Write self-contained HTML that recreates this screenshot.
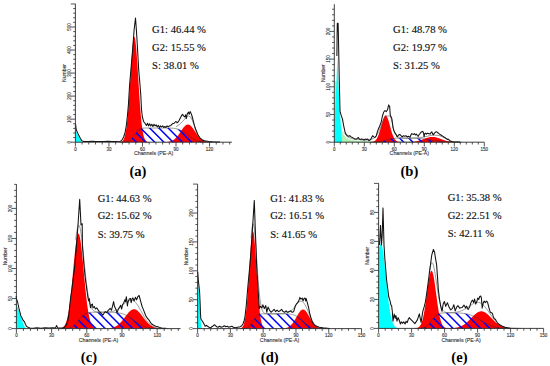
<!DOCTYPE html>
<html><head><meta charset="utf-8"><style>
html,body{margin:0;padding:0;background:#fff;}
svg{display:block;}
</style></head><body>
<svg width="550" height="366" viewBox="0 0 550 366">
<rect width="550" height="366" fill="#fff"/>
<path d="M75.4 142.2L75.4 130.2L76.8 132.6L78.2 135.6L79.6 138.3L81 140.4L82.4 142.2L82.4 142.2Z" fill="#00ffff"/>
<path d="M118.5 142.2L118.5 142.16L118.75 142.15L119 142.14L119.25 142.13L119.5 142.11L119.75 142.08L120 142.05L120.25 142.01L120.5 141.96L120.75 141.91L121 141.84L121.25 141.75L121.5 141.65L121.75 141.52L122 141.37L122.25 141.2L122.5 140.98L122.75 140.73L123 140.44L123.25 140.09L123.5 139.69L123.75 139.22L124 138.68L124.25 138.06L124.5 137.34L124.75 136.53L125 135.61L125.25 134.56L125.5 133.39L125.75 132.07L126 130.61L126.25 128.99L126.5 127.2L126.75 125.24L127 123.09L127.25 120.77L127.5 118.25L127.75 115.55L128 112.66L128.25 109.58L128.5 106.34L128.75 102.92L129 99.36L129.25 95.65L129.5 91.83L129.75 87.91L130 83.92L130.25 79.89L130.5 75.85L130.75 71.82L131 67.85L131.25 63.97L131.5 60.22L131.75 56.63L132 53.24L132.25 50.08L132.5 47.19L132.75 44.61L133 42.36L133.25 40.46L133.5 38.94L133.75 37.82L134 37.1L134.25 36.81L134.5 36.94L134.75 37.48L135 38.44L135.25 39.8L135.5 41.55L135.75 43.67L136 46.12L136.25 48.89L136.5 51.94L136.75 55.24L137 58.76L137.25 62.45L137.5 66.29L137.75 70.22L138 74.23L138.25 78.27L138.5 82.31L138.75 86.32L139 90.27L139.25 94.14L139.5 97.89L139.75 101.51L140 104.99L140.25 108.31L140.5 111.45L140.75 114.41L141 117.19L141.25 119.78L141.5 122.18L141.75 124.4L142 126.44L142.25 128.29L142.5 129.98L142.75 131.51L143 132.88L143.25 134.11L143.5 135.2L143.75 136.17L144 137.03L144.25 137.78L144.5 138.44L144.75 139.02L145 139.51L145.25 139.94L145.5 140.31L145.75 140.62L146 140.89L146.25 141.12L146.5 141.31L146.75 141.47L147 141.6L147.25 141.71L147.5 141.8L147.75 141.88L148 141.94L148.25 141.99L148.5 142.04L148.75 142.07L149 142.1L149.25 142.12L149.5 142.14L149.75 142.15L150 142.16L150.1 142.2Z" fill="#ff0000"/>
<path d="M159.5 142.2L159.5 142.19L159.75 142.19L160 142.19L160.25 142.19L160.5 142.19L160.75 142.19L161 142.19L161.25 142.18L161.5 142.18L161.75 142.18L162 142.18L162.25 142.17L162.5 142.17L162.75 142.17L163 142.16L163.25 142.16L163.5 142.15L163.75 142.15L164 142.14L164.25 142.13L164.5 142.12L164.75 142.11L165 142.1L165.25 142.09L165.5 142.08L165.75 142.06L166 142.05L166.25 142.03L166.5 142.01L166.75 141.99L167 141.97L167.25 141.94L167.5 141.91L167.75 141.88L168 141.85L168.25 141.82L168.5 141.78L168.75 141.73L169 141.69L169.25 141.64L169.5 141.58L169.75 141.53L170 141.46L170.25 141.39L170.5 141.32L170.75 141.24L171 141.16L171.25 141.07L171.5 140.97L171.75 140.87L172 140.76L172.25 140.64L172.5 140.52L172.75 140.38L173 140.24L173.25 140.09L173.5 139.94L173.75 139.77L174 139.6L174.25 139.41L174.5 139.22L174.75 139.02L175 138.8L175.25 138.58L175.5 138.35L175.75 138.11L176 137.86L176.25 137.59L176.5 137.32L176.75 137.04L177 136.75L177.25 136.45L177.5 136.15L177.75 135.83L178 135.5L178.25 135.17L178.5 134.83L178.75 134.49L179 134.13L179.25 133.77L179.5 133.41L179.75 133.04L180 132.67L180.25 132.29L180.5 131.92L180.75 131.54L181 131.16L181.25 130.78L181.5 130.41L181.75 130.04L182 129.67L182.25 129.3L182.5 128.95L182.75 128.59L183 128.25L183.25 127.92L183.5 127.59L183.75 127.28L184 126.98L184.25 126.69L184.5 126.42L184.75 126.16L185 125.92L185.25 125.69L185.5 125.48L185.75 125.29L186 125.12L186.25 124.97L186.5 124.84L186.75 124.73L187 124.64L187.25 124.57L187.5 124.53L187.75 124.5L188 124.5L188.25 124.52L188.5 124.56L188.75 124.63L189 124.71L189.25 124.82L189.5 124.94L189.75 125.09L190 125.26L190.25 125.44L190.5 125.65L190.75 125.87L191 126.11L191.25 126.36L191.5 126.64L191.75 126.92L192 127.22L192.25 127.53L192.5 127.85L192.75 128.18L193 128.52L193.25 128.87L193.5 129.23L193.75 129.59L194 129.96L194.25 130.33L194.5 130.71L194.75 131.09L195 131.46L195.25 131.84L195.5 132.22L195.75 132.59L196 132.97L196.25 133.34L196.5 133.7L196.75 134.06L197 134.41L197.25 134.76L197.5 135.1L197.75 135.44L198 135.76L198.25 136.08L198.5 136.39L198.75 136.69L199 136.99L199.25 137.27L199.5 137.54L199.75 137.8L200 138.06L200.25 138.3L200.5 138.53L200.75 138.76L201 138.97L201.25 139.18L201.5 139.37L201.75 139.56L202 139.74L202.25 139.9L202.5 140.06L202.75 140.21L203 140.36L203.25 140.49L203.5 140.62L203.75 140.74L204 140.85L204.25 140.95L204.5 141.05L204.75 141.14L205 141.23L205.25 141.31L205.5 141.38L205.75 141.45L206 141.51L206.25 141.57L206.5 141.63L206.75 141.68L207 141.73L207.25 141.77L207.5 141.81L207.75 141.84L208 141.88L208.25 141.91L208.5 141.94L208.75 141.96L209 141.99L209.25 142.01L209.5 142.03L209.75 142.04L210 142.06L210.25 142.08L210.5 142.09L210.75 142.1L211 142.11L211.25 142.12L211.5 142.13L211.75 142.14L212 142.14L212.25 142.15L212.5 142.16L212.75 142.16L213 142.17L213.25 142.17L213.5 142.17L213.75 142.18L214 142.18L214.25 142.18L214.5 142.18L214.75 142.19L215 142.19L215.25 142.19L215.5 142.19L215.75 142.19L216 142.19L216.25 142.19L216.3 142.2Z" fill="#ff0000"/>
<clipPath id="ca"><path d="M120.48 142.2L120.48 142.2L120.73 142.2L120.98 142.19L121.23 142.19L121.48 142.19L121.73 142.19L121.98 142.19L122.23 142.18L122.48 142.18L122.73 142.18L122.98 142.17L123.23 142.16L123.48 142.16L123.73 142.15L123.98 142.14L124.23 142.12L124.48 142.11L124.73 142.09L124.98 142.07L125.23 142.05L125.48 142.02L125.73 141.99L125.98 141.95L126.23 141.91L126.48 141.86L126.73 141.81L126.98 141.75L127.23 141.68L127.48 141.6L127.73 141.52L127.98 141.42L128.23 141.32L128.48 141.2L128.73 141.08L128.98 140.94L129.23 140.79L129.48 140.62L129.73 140.45L129.98 140.26L130.23 140.05L130.48 139.84L130.73 139.61L130.98 139.36L131.23 139.1L131.48 138.83L131.73 138.55L131.98 138.25L132.23 137.94L132.48 137.63L132.73 137.3L132.98 136.97L133.23 136.62L133.48 136.27L133.73 135.92L133.98 135.57L134.23 135.21L134.48 134.85L134.73 134.49L134.98 134.14L135.23 133.79L135.48 133.44L135.73 133.1L135.98 132.77L136.23 132.44L136.48 132.13L136.73 131.83L136.98 131.54L137.23 131.26L137.48 130.99L137.73 130.74L137.98 130.5L138.23 130.27L138.48 130.06L138.73 129.86L138.98 129.68L139.23 129.51L139.48 129.35L139.73 129.2L139.98 129.07L140.23 128.95L140.48 128.84L140.73 128.74L140.98 128.65L141.23 128.56L141.48 128.49L141.73 128.43L141.98 128.37L142.23 128.32L142.48 128.27L142.73 128.23L142.98 128.2L143.23 128.17L143.48 128.14L143.73 128.12L143.98 128.1L144.23 128.09L144.48 128.07L144.73 128.06L144.98 128.05L145.23 128.04L145.48 128.03L145.73 128.03L145.98 128.02L146.23 128.02L146.48 128.01L146.73 128.01L146.98 128.01L147.23 128.01L147.48 128.01L147.73 128L147.98 128L148.23 128L148.48 128L148.73 128L148.98 128L149.23 128L149.48 128L149.73 128L149.98 128L150.23 128L150.48 128L150.73 128L150.98 128L151.23 128L151.48 128L151.73 128L151.98 128L152.23 128L152.48 128L152.73 128L152.98 128L153.23 128L153.48 128L153.73 128L153.98 128L154.23 128L154.48 128L154.73 128L154.98 128L155.23 128L155.48 128L155.73 128L155.98 128L156.23 128L156.48 128L156.73 128L156.98 128L157.23 128L157.48 128L157.73 128L157.98 128L158.23 128L158.48 128L158.73 128L158.98 128L159.23 128L159.48 128L159.73 128L159.98 128L160.23 128L160.48 128L160.73 128L160.98 128L161.23 128L161.48 128L161.73 128L161.98 128L162.23 128L162.48 128L162.73 128L162.98 128L163.23 128L163.48 128L163.73 128L163.98 128.01L164.23 128.01L164.48 128.01L164.73 128.01L164.98 128.01L165.23 128.01L165.48 128.01L165.73 128.01L165.98 128.01L166.23 128.02L166.48 128.02L166.73 128.02L166.98 128.02L167.23 128.03L167.48 128.03L167.73 128.03L167.98 128.04L168.23 128.04L168.48 128.04L168.73 128.05L168.98 128.05L169.23 128.06L169.48 128.07L169.73 128.07L169.98 128.08L170.23 128.09L170.48 128.1L170.73 128.11L170.98 128.12L171.23 128.13L171.48 128.15L171.73 128.16L171.98 128.18L172.23 128.19L172.48 128.21L172.73 128.23L172.98 128.25L173.23 128.28L173.48 128.3L173.73 128.33L173.98 128.35L174.23 128.38L174.48 128.42L174.73 128.45L174.98 128.49L175.23 128.53L175.48 128.57L175.73 128.61L175.98 128.66L176.23 128.71L176.48 128.76L176.73 128.82L176.98 128.88L177.23 128.94L177.48 129.01L177.73 129.08L177.98 129.15L178.23 129.23L178.48 129.31L178.73 129.39L178.98 129.48L179.23 129.57L179.48 129.67L179.73 129.77L179.98 129.88L180.23 129.99L180.48 130.1L180.73 130.22L180.98 130.34L181.23 130.46L181.48 130.6L181.73 130.73L181.98 130.87L182.23 131.01L182.48 131.16L182.73 131.31L182.98 131.46L183.23 131.62L183.48 131.79L183.73 131.95L183.98 132.12L184.23 132.29L184.48 132.47L184.73 132.65L184.98 132.83L185.23 133.02L185.48 133.2L185.73 133.39L185.98 133.58L186.23 133.78L186.48 133.97L186.73 134.17L186.98 134.36L187.23 134.56L187.48 134.76L187.73 134.96L187.98 135.16L188.23 135.36L188.48 135.56L188.73 135.76L188.98 135.95L189.23 136.15L189.48 136.35L189.73 136.54L189.98 136.73L190.23 136.92L190.48 137.11L190.73 137.3L190.98 137.48L191.23 137.66L191.48 137.84L191.73 138.01L191.98 138.18L192.23 138.35L192.48 138.51L192.73 138.67L192.98 138.83L193.23 138.98L193.48 139.13L193.73 139.27L193.98 139.42L194.23 139.55L194.48 139.68L194.73 139.81L194.98 139.93L195.23 140.05L195.48 140.17L195.73 140.28L195.98 140.39L196.23 140.49L196.48 140.59L196.73 140.68L196.98 140.77L197.23 140.86L197.48 140.94L197.73 141.02L197.98 141.09L198.23 141.16L198.48 141.23L198.73 141.3L198.98 141.36L199.23 141.41L199.48 141.47L199.73 141.52L199.98 141.57L200.23 141.61L200.48 141.66L200.73 141.7L200.98 141.73L201.23 141.77L201.48 141.8L201.73 141.83L201.98 141.86L202.23 141.89L202.48 141.92L202.73 141.94L202.98 141.96L203.23 141.98L203.48 142L203.73 142.02L203.98 142.03L204.23 142.05L204.48 142.06L204.73 142.07L204.98 142.09L205.23 142.1L205.48 142.11L205.73 142.11L205.98 142.12L206.23 142.13L206.48 142.14L206.73 142.14L206.98 142.15L207.23 142.15L207.48 142.16L207.73 142.16L207.98 142.17L208.23 142.17L208.48 142.17L208.73 142.18L208.98 142.18L209.23 142.18L209.48 142.18L209.73 142.19L209.98 142.19L210.23 142.19L210.48 142.19L210.73 142.19L210.98 142.19L211.23 142.19L211.48 142.19L211.73 142.19L211.98 142.2L212.23 142.2L212.48 142.2L212.73 142.2L212.75 142.2Z"/></clipPath><g clip-path="url(#ca)" stroke="#0000ff" stroke-width="1.5"><line x1="100.7" y1="125" x2="120.9" y2="145.2"/><line x1="109.9" y1="125" x2="130.1" y2="145.2"/><line x1="119.1" y1="125" x2="139.3" y2="145.2"/><line x1="128.3" y1="125" x2="148.5" y2="145.2"/><line x1="137.5" y1="125" x2="157.7" y2="145.2"/><line x1="146.7" y1="125" x2="166.9" y2="145.2"/><line x1="155.9" y1="125" x2="176.1" y2="145.2"/><line x1="165.1" y1="125" x2="185.3" y2="145.2"/><line x1="174.3" y1="125" x2="194.5" y2="145.2"/><line x1="183.5" y1="125" x2="203.7" y2="145.2"/><line x1="192.7" y1="125" x2="212.9" y2="145.2"/><line x1="201.9" y1="125" x2="222.1" y2="145.2"/><line x1="211.1" y1="125" x2="231.3" y2="145.2"/></g>
<path d="M120.48 142.2L120.98 142.19L121.48 142.19L121.98 142.19L122.48 142.18L122.98 142.17L123.48 142.16L123.98 142.14L124.48 142.11L124.98 142.07L125.48 142.02L125.98 141.95L126.48 141.86L126.98 141.75L127.48 141.6L127.98 141.42L128.48 141.2L128.98 140.94L129.48 140.62L129.98 140.26L130.48 139.84L130.98 139.36L131.48 138.83L131.98 138.25L132.48 137.63L132.98 136.97L133.48 136.27L133.98 135.57L134.48 134.85L134.98 134.14L135.48 133.44L135.98 132.77L136.48 132.13L136.98 131.54L137.48 130.99L137.98 130.5L138.48 130.06L138.98 129.68L139.48 129.35L139.98 129.07L140.48 128.84L140.98 128.65L141.48 128.49L141.98 128.37L142.48 128.27L142.98 128.2L143.48 128.14L143.98 128.1L144.48 128.07L144.98 128.05L145.48 128.03L145.98 128.02L146.48 128.01L146.98 128.01L147.48 128.01L147.98 128L148.48 128L148.98 128L149.48 128L149.98 128L150.48 128L150.98 128L151.48 128L151.98 128L152.48 128L152.98 128L153.48 128L153.98 128L154.48 128L154.98 128L155.48 128L155.98 128L156.48 128L156.98 128L157.48 128L157.98 128L158.48 128L158.98 128L159.48 128L159.98 128L160.48 128L160.98 128L161.48 128L161.98 128L162.48 128L162.98 128L163.48 128L163.98 128.01L164.48 128.01L164.98 128.01L165.48 128.01L165.98 128.01L166.48 128.02L166.98 128.02L167.48 128.03L167.98 128.04L168.48 128.04L168.98 128.05L169.48 128.07L169.98 128.08L170.48 128.1L170.98 128.12L171.48 128.15L171.98 128.18L172.48 128.21L172.98 128.25L173.48 128.3L173.98 128.35L174.48 128.42L174.98 128.49L175.48 128.57L175.98 128.66L176.48 128.76L176.98 128.88L177.48 129.01L177.98 129.15L178.48 129.31L178.98 129.48L179.48 129.67L179.98 129.88L180.48 130.1L180.98 130.34L181.48 130.6L181.98 130.87L182.48 131.16L182.98 131.46L183.48 131.79L183.98 132.12L184.48 132.47L184.98 132.83L185.48 133.2L185.98 133.58L186.48 133.97L186.98 134.36L187.48 134.76L187.98 135.16L188.48 135.56L188.98 135.95L189.48 136.35L189.98 136.73L190.48 137.11L190.98 137.48L191.48 137.84L191.98 138.18L192.48 138.51L192.98 138.83L193.48 139.13L193.98 139.42L194.48 139.68L194.98 139.93L195.48 140.17L195.98 140.39L196.48 140.59L196.98 140.77L197.48 140.94L197.98 141.09L198.48 141.23L198.98 141.36L199.48 141.47L199.98 141.57L200.48 141.66L200.98 141.73L201.48 141.8L201.98 141.86L202.48 141.92L202.98 141.96L203.48 142L203.98 142.03L204.48 142.06L204.98 142.09L205.48 142.11L205.98 142.12L206.48 142.14L206.98 142.15L207.48 142.16L207.98 142.17L208.48 142.17L208.98 142.18L209.48 142.18L209.98 142.19L210.48 142.19L210.98 142.19L211.48 142.19L211.98 142.2L212.48 142.2" fill="none" stroke="#333" stroke-width="0.5"/>
<path d="M175.9 126.8L179.2 124.7L182.5 121.4L185.7 118.1L188.5 115.9L190.7 117L192.3 120.3L193.9 124.7L196.1 131.2L198.8 136.7L202.1 140L206.5 141.6" fill="none" stroke="#555" stroke-width="0.6"/>
<path d="M75.6 124.4L76.2 129.5L77.5 132.6L78.9 135.6L80.3 138.3L81.8 140.6L83.5 141.5L88 141.6L92 141.3L96 141.6L100 141.4L104 141.6L108 141.3L112 141.6L116 141.4L120.5 141.3L122.3 139.5L123.6 137L125 133L126.4 125L127.5 115L128.4 105L129.6 85L130.9 70L132.6 50L134.1 30L135.5 18L136.4 30L137.6 50L138.7 70L140 85L140.8 95L141.5 109.5L142.3 116.5L143.1 119.6L143.6 121.5L145.3 123.7L146.4 125.4L147.5 123.2L148.5 125.9L149.6 123.7L150.7 125.9L151.8 124.3L152.9 126.5L154 124.3L155.1 125.9L156.2 124.8L157.3 127L158.4 125.4L159.5 127.5L160.5 125.9L161.6 127L162.7 125.9L163.8 127.5L164.9 126.5L166 127.5L167.1 125.9L168.2 127L169.3 125.9L170.9 125.4L172.5 123.7L174.2 123.2L175.8 121.5L176.9 122.1L177 123L178.1 121.9L179.2 120.3L180.3 118.1L181.4 115.9L182.5 114.3L183.6 115.9L184.7 117L185.7 114.8L186.3 118.6L186.8 115.9L187.4 113.7L188.5 112.1L189.2 114.3L190.1 111.6L191.2 113.7L192.3 117L193.4 121.4L194.5 125.7L195.6 129L196.7 131.7L197.8 134.5L199.9 137.8L202.1 139.7L204.3 140.8L208.7 141.6L214.1 141.9L220 142" fill="none" stroke="#111" stroke-width="1.05" stroke-linejoin="round"/>
<path d="M75.4 3.8V142.2H231.92" stroke="#2a2a2a" stroke-width="0.9" fill="none"/>
<path d="M70.8 142.2H75.4M73.2 137.59H75.4M73.2 132.98H75.4M73.2 128.38H75.4M73.2 123.77H75.4M70.8 119.16H75.4M73.2 114.55H75.4M73.2 109.94H75.4M73.2 105.34H75.4M73.2 100.73H75.4M70.8 96.12H75.4M73.2 91.51H75.4M73.2 86.9H75.4M73.2 82.3H75.4M73.2 77.69H75.4M70.8 73.08H75.4M73.2 68.47H75.4M73.2 63.86H75.4M73.2 59.26H75.4M73.2 54.65H75.4M70.8 50.04H75.4M73.2 45.43H75.4M73.2 40.82H75.4M73.2 36.22H75.4M73.2 31.61H75.4M70.8 27H75.4M73.2 22.39H75.4M73.2 17.78H75.4M73.2 13.18H75.4M73.2 8.57H75.4M70.8 3.96H75.4M75.4 142.2V146.5M82.11 142.2V144.5M88.82 142.2V144.5M95.52 142.2V144.5M102.23 142.2V144.5M108.94 142.2V146.5M115.65 142.2V144.5M122.36 142.2V144.5M129.06 142.2V144.5M135.77 142.2V144.5M142.48 142.2V146.5M149.19 142.2V144.5M155.9 142.2V144.5M162.6 142.2V144.5M169.31 142.2V144.5M176.02 142.2V146.5M182.73 142.2V144.5M189.44 142.2V144.5M196.14 142.2V144.5M202.85 142.2V144.5M209.56 142.2V146.5M216.27 142.2V144.5M222.98 142.2V144.5M229.68 142.2V144.5" stroke="#2a2a2a" stroke-width="0.8" fill="none"/>
<g font-family="Liberation Sans, sans-serif" font-size="5" fill="#333" stroke="#333" stroke-width="0.12"><text x="75.4" y="150.8" text-anchor="middle" font-size="4.5">0</text><text x="108.94" y="150.8" text-anchor="middle" font-size="4.5">30</text><text x="142.48" y="150.8" text-anchor="middle" font-size="4.5">60</text><text x="176.02" y="150.8" text-anchor="middle" font-size="4.5">90</text><text x="209.56" y="150.8" text-anchor="middle" font-size="4.5">120</text><text transform="translate(70.6 142.2) rotate(-90)" text-anchor="middle" font-size="4.5">0</text><text transform="translate(70.6 119.16) rotate(-90)" text-anchor="middle" font-size="4.5">100</text><text transform="translate(70.6 96.12) rotate(-90)" text-anchor="middle" font-size="4.5">200</text><text transform="translate(70.6 73.08) rotate(-90)" text-anchor="middle" font-size="4.5">300</text><text transform="translate(70.6 50.04) rotate(-90)" text-anchor="middle" font-size="4.5">400</text><text transform="translate(70.6 27) rotate(-90)" text-anchor="middle" font-size="4.5">500</text><text transform="translate(65.8 73) rotate(-90)" text-anchor="middle">Number</text><text x="153.66" y="155.3" text-anchor="middle" font-size="5.25">Channels (PE-A)</text></g>
<path d="M334.3 142.2L334.3 81.3L334.8 81.3L335.3 81.3L335.8 81.3L336.3 81.3L336.8 81.3L337.3 81.3L337.8 90.05L338.3 99.3L338.8 106.74L339.3 112.74L339.8 117.59L340.3 121.52L340.8 124.7L341.3 127.29L341.8 129.41L342.3 131.14L342.8 132.56L343.3 133.74L343.8 134.71L344.3 135.53L344.8 136.21L345.3 136.78L345.8 137.27L346.3 137.69L346.8 138.05L347.3 138.35L347.8 138.62L348.3 138.86L348.8 139.07L349.3 139.25L349.8 139.42L350.3 139.56L350.8 139.69L351.3 139.81L351.8 139.92L352.3 140.02L352.8 140.11L353.3 140.2L353.8 140.27L354.3 140.34L354.8 140.41L355.3 140.47L355.8 140.52L356.3 140.58L356.8 140.62L357.3 140.67L357.8 140.71L358.3 140.75L358.8 140.78L359.3 140.82L359.8 140.85L360.3 140.88L360.8 140.91L361.3 140.93L361.8 140.96L362.3 140.98L362.8 141L363.3 141.02L363.8 141.04L364.3 141.05L364.8 141.07L365.3 141.08L365.8 141.1L366.3 141.11L366.8 141.12L367.3 141.13L367.8 141.15L368.3 141.16L368.8 141.16L369.3 141.17L369.8 141.18L370.3 141.19L370.8 141.2L371.3 141.2L371.8 141.21L372.3 141.22L372.8 141.22L373.3 141.23L373.8 141.23L374.3 141.24L374.8 141.24L375.3 141.24L375.8 141.25L376.3 141.25L376.8 141.25L377.3 141.26L377.8 141.26L378.3 141.26L378.8 141.26L379.3 141.27L379.8 141.27L380.3 141.27L380.8 141.27L381.3 141.27L381.8 141.28L382.3 141.28L382.8 141.28L383.3 141.28L383.8 141.28L384.3 141.28L384.8 141.28L385.3 141.29L385.8 141.29L386.3 141.29L386.8 141.29L387.3 141.29L387.8 141.29L388.3 141.29L388.8 141.29L389.3 141.29L389.8 141.29L390.3 141.29L390.8 141.29L391.3 141.29L391.8 141.29L392.3 141.29L392.8 141.29L393.3 141.29L393.8 141.3L394.3 141.3L394.8 141.3L395.3 141.3L395.8 141.3L396.3 141.3L396.8 141.3L397.3 141.3L397.8 141.3L398.3 141.3L398.8 141.3L399.3 141.3L399.8 141.3L400.3 141.3L400.8 141.3L401.3 141.3L401.8 141.3L402.3 141.3L402.8 141.3L403.3 141.3L403.8 141.3L404.3 141.3L404.8 141.3L405.3 141.3L405.8 141.3L406.3 141.3L406.8 141.3L407.3 141.3L407.8 141.3L408.3 141.3L408.8 141.3L409.3 141.3L409.8 141.3L410.3 141.3L410.8 141.3L411.3 141.3L411.8 141.3L412.3 141.3L412.8 141.3L413.3 141.3L413.8 141.3L414.3 141.3L414.8 141.3L415.3 141.3L415.8 141.3L416.3 141.3L416.8 141.3L417.3 141.3L417.8 141.3L418.3 141.3L418.8 141.3L419.3 141.3L419.8 141.3L420.3 141.3L420.8 141.3L421.3 141.3L421.8 141.3L422.3 141.3L422.8 141.3L423.3 141.3L423.8 141.3L424.3 141.3L424.8 141.3L425.3 141.3L425.8 141.3L426.3 141.3L426.8 141.3L427.3 141.3L427.8 141.3L428.3 141.3L428.8 141.3L429.3 141.3L429.8 141.3L430.3 141.3L430.8 141.3L431.3 141.3L431.8 141.3L432.3 141.3L432.8 141.3L433.3 141.3L433.8 141.3L434.3 141.3L434.8 141.3L435.3 141.3L435.8 141.3L436.3 141.3L436.8 141.3L437.3 141.3L437.8 141.3L438.3 141.3L438.8 141.3L439.3 141.3L439.8 141.3L440.3 141.3L440.8 141.3L441.3 141.3L441.8 141.3L442.3 141.3L442.8 141.3L443.3 141.3L443.8 141.3L444.3 141.3L444.8 141.3L445.3 141.3L445.8 141.3L446.3 141.3L446.8 141.3L447.3 141.3L447.8 141.3L448.3 141.3L448.8 141.3L449.3 141.3L449.8 141.3L450.3 141.3L450.8 141.3L451.3 141.3L451.8 141.3L452.3 141.3L452.8 141.3L453.3 141.3L453.8 141.3L454.3 141.3L454.8 141.3L455.3 141.3L455.8 141.3L456.3 141.3L456.8 141.3L457.3 141.3L457.8 141.3L458.3 141.3L458.8 141.3L459.3 141.3L459.8 141.3L460.3 142.2L460.8 142.2L461.3 142.2L461.8 142.2L462.3 142.2L462.8 142.2L463.3 142.2L463.8 142.2L464.3 142.2L464.8 142.2L465.3 142.2L465.8 142.2L466.3 142.2L466.8 142.2L467.3 142.2L467.8 142.2L468.3 142.2L468.8 142.2L469.3 142.2L469.8 142.2L470.3 142.2L470.8 142.2L471.3 142.2L471.8 142.2L472.3 142.2L472.8 142.2L473.3 142.2L473.8 142.2L474.3 142.2L474.8 142.2L475.3 142.2L475.8 142.2L476.3 142.2L476.8 142.2L477.3 142.2L477.8 142.2L478.3 142.2L478.8 142.2L479.3 142.2L479.8 142.2L480.3 142.2L480.8 142.2L481.3 142.2L481.8 142.2L482.3 142.2L482.8 142.2L483.3 142.2L483.8 142.2L484.3 142.2L484.3 142.2Z" fill="#b4f0b4"/>
<path d="M334.3 142.2L334.3 128L335.2 110L336.3 85L337.4 55.4L338.5 85L339.8 110L340.8 125L341.5 135L342.3 142.2L342.3 142.2Z" fill="#00ffff"/>
<path d="M368 142.2L368 142.19L368.25 142.19L368.5 142.19L368.75 142.18L369 142.18L369.25 142.17L369.5 142.17L369.75 142.16L370 142.15L370.25 142.14L370.5 142.13L370.75 142.11L371 142.09L371.25 142.07L371.5 142.04L371.75 142.01L372 141.98L372.25 141.93L372.5 141.88L372.75 141.82L373 141.76L373.25 141.68L373.5 141.59L373.75 141.49L374 141.37L374.25 141.24L374.5 141.09L374.75 140.92L375 140.73L375.25 140.52L375.5 140.28L375.75 140.02L376 139.73L376.25 139.41L376.5 139.05L376.75 138.67L377 138.25L377.25 137.79L377.5 137.3L377.75 136.76L378 136.19L378.25 135.58L378.5 134.94L378.75 134.25L379 133.53L379.25 132.78L379.5 131.99L379.75 131.17L380 130.32L380.25 129.45L380.5 128.56L380.75 127.66L381 126.74L381.25 125.82L381.5 124.9L381.75 123.99L382 123.09L382.25 122.22L382.5 121.37L382.75 120.55L383 119.78L383.25 119.05L383.5 118.37L383.75 117.76L384 117.21L384.25 116.73L384.5 116.32L384.75 115.99L385 115.75L385.25 115.58L385.5 115.51L385.75 115.52L386 115.61L386.25 115.79L386.5 116.05L386.75 116.4L387 116.82L387.25 117.31L387.5 117.88L387.75 118.5L388 119.19L388.25 119.93L388.5 120.71L388.75 121.54L389 122.39L389.25 123.27L389.5 124.17L389.75 125.09L390 126.01L390.25 126.92L390.5 127.84L390.75 128.74L391 129.63L391.25 130.49L391.5 131.33L391.75 132.15L392 132.93L392.25 133.68L392.5 134.39L392.75 135.07L393 135.71L393.25 136.31L393.5 136.87L393.75 137.4L394 137.88L394.25 138.33L394.5 138.75L394.75 139.13L395 139.47L395.25 139.79L395.5 140.08L395.75 140.33L396 140.57L396.25 140.77L396.5 140.96L396.75 141.12L397 141.27L397.25 141.4L397.5 141.51L397.75 141.61L398 141.7L398.25 141.77L398.5 141.84L398.75 141.89L399 141.94L399.25 141.98L399.5 142.02L399.75 142.05L400 142.07L400.25 142.1L400.5 142.11L400.75 142.13L401 142.14L401.25 142.15L401.5 142.16L401.75 142.17L402 142.17L402.25 142.18L402.5 142.18L402.75 142.19L403 142.19L403.2 142.2Z" fill="#ff0000"/>
<path d="M398.4 142.2L398.4 142.2L398.65 142.2L398.9 142.2L399.15 142.2L399.4 142.2L399.65 142.2L399.9 142.2L400.15 142.2L400.4 142.2L400.65 142.2L400.9 142.19L401.15 142.19L401.4 142.19L401.65 142.19L401.9 142.19L402.15 142.19L402.4 142.19L402.65 142.19L402.9 142.19L403.15 142.19L403.4 142.18L403.65 142.18L403.9 142.18L404.15 142.18L404.4 142.18L404.65 142.17L404.9 142.17L405.15 142.17L405.4 142.17L405.65 142.16L405.9 142.16L406.15 142.15L406.4 142.15L406.65 142.15L406.9 142.14L407.15 142.14L407.4 142.13L407.65 142.12L407.9 142.12L408.15 142.11L408.4 142.1L408.65 142.09L408.9 142.08L409.15 142.07L409.4 142.06L409.65 142.05L409.9 142.04L410.15 142.03L410.4 142.01L410.65 142L410.9 141.98L411.15 141.97L411.4 141.95L411.65 141.93L411.9 141.91L412.15 141.89L412.4 141.87L412.65 141.84L412.9 141.82L413.15 141.79L413.4 141.76L413.65 141.73L413.9 141.7L414.15 141.67L414.4 141.64L414.65 141.6L414.9 141.56L415.15 141.52L415.4 141.48L415.65 141.44L415.9 141.39L416.15 141.35L416.4 141.3L416.65 141.25L416.9 141.19L417.15 141.14L417.4 141.08L417.65 141.02L417.9 140.96L418.15 140.9L418.4 140.83L418.65 140.77L418.9 140.7L419.15 140.63L419.4 140.55L419.65 140.48L419.9 140.4L420.15 140.32L420.4 140.24L420.65 140.16L420.9 140.08L421.15 139.99L421.4 139.91L421.65 139.82L421.9 139.73L422.15 139.64L422.4 139.55L422.65 139.45L422.9 139.36L423.15 139.27L423.4 139.17L423.65 139.08L423.9 138.99L424.15 138.89L424.4 138.8L424.65 138.7L424.9 138.61L425.15 138.52L425.4 138.42L425.65 138.33L425.9 138.24L426.15 138.16L426.4 138.07L426.65 137.98L426.9 137.9L427.15 137.82L427.4 137.74L427.65 137.67L427.9 137.59L428.15 137.52L428.4 137.46L428.65 137.39L428.9 137.33L429.15 137.27L429.4 137.22L429.65 137.17L429.9 137.12L430.15 137.08L430.4 137.04L430.65 137.01L430.9 136.98L431.15 136.96L431.4 136.94L431.65 136.92L431.9 136.91L432.15 136.9L432.4 136.9L432.65 136.9L432.9 136.91L433.15 136.92L433.4 136.94L433.65 136.96L433.9 136.98L434.15 137.01L434.4 137.04L434.65 137.08L434.9 137.12L435.15 137.17L435.4 137.22L435.65 137.27L435.9 137.33L436.15 137.39L436.4 137.46L436.65 137.52L436.9 137.59L437.15 137.67L437.4 137.74L437.65 137.82L437.9 137.9L438.15 137.98L438.4 138.07L438.65 138.16L438.9 138.24L439.15 138.33L439.4 138.42L439.65 138.52L439.9 138.61L440.15 138.7L440.4 138.8L440.65 138.89L440.9 138.99L441.15 139.08L441.4 139.17L441.65 139.27L441.9 139.36L442.15 139.45L442.4 139.55L442.65 139.64L442.9 139.73L443.15 139.82L443.4 139.91L443.65 139.99L443.9 140.08L444.15 140.16L444.4 140.24L444.65 140.32L444.9 140.4L445.15 140.48L445.4 140.55L445.65 140.63L445.9 140.7L446.15 140.77L446.4 140.83L446.65 140.9L446.9 140.96L447.15 141.02L447.4 141.08L447.65 141.14L447.9 141.19L448.15 141.25L448.4 141.3L448.65 141.35L448.9 141.39L449.15 141.44L449.4 141.48L449.65 141.52L449.9 141.56L450.15 141.6L450.4 141.64L450.65 141.67L450.9 141.7L451.15 141.73L451.4 141.76L451.65 141.79L451.9 141.82L452.15 141.84L452.4 141.87L452.65 141.89L452.9 141.91L453.15 141.93L453.4 141.95L453.65 141.97L453.9 141.98L454.15 142L454.4 142.01L454.65 142.03L454.9 142.04L455.15 142.05L455.4 142.06L455.65 142.07L455.9 142.08L456.15 142.09L456.4 142.1L456.65 142.11L456.9 142.12L457.15 142.12L457.4 142.13L457.65 142.14L457.9 142.14L458.15 142.15L458.4 142.15L458.65 142.15L458.9 142.16L459.15 142.16L459.4 142.17L459.65 142.17L459.9 142.17L460.15 142.17L460.4 142.18L460.65 142.18L460.9 142.18L461.15 142.18L461.4 142.18L461.65 142.19L461.9 142.19L462.15 142.19L462.4 142.19L462.65 142.19L462.9 142.19L463.15 142.19L463.4 142.19L463.65 142.19L463.9 142.19L464.15 142.2L464.4 142.2L464.65 142.2L464.9 142.2L465.15 142.2L465.4 142.2L465.65 142.2L465.9 142.2L466.15 142.2L466.4 142.2L466.4 142.2Z" fill="#ff0000"/>
<clipPath id="cb"><path d="M370.2 142.2L370.2 142.2L370.45 142.2L370.7 142.2L370.95 142.2L371.2 142.2L371.45 142.2L371.7 142.2L371.95 142.2L372.2 142.2L372.45 142.19L372.7 142.19L372.95 142.19L373.2 142.19L373.45 142.19L373.7 142.19L373.95 142.18L374.2 142.18L374.45 142.18L374.7 142.17L374.95 142.17L375.2 142.16L375.45 142.16L375.7 142.15L375.95 142.14L376.2 142.13L376.45 142.12L376.7 142.11L376.95 142.1L377.2 142.09L377.45 142.07L377.7 142.05L377.95 142.04L378.2 142.01L378.45 141.99L378.7 141.97L378.95 141.94L379.2 141.91L379.45 141.88L379.7 141.84L379.95 141.8L380.2 141.76L380.45 141.72L380.7 141.67L380.95 141.62L381.2 141.57L381.45 141.51L381.7 141.45L381.95 141.39L382.2 141.32L382.45 141.25L382.7 141.18L382.95 141.11L383.2 141.03L383.45 140.95L383.7 140.87L383.95 140.78L384.2 140.7L384.45 140.61L384.7 140.52L384.95 140.43L385.2 140.34L385.45 140.25L385.7 140.16L385.95 140.07L386.2 139.98L386.45 139.89L386.7 139.81L386.95 139.72L387.2 139.63L387.45 139.55L387.7 139.47L387.95 139.39L388.2 139.31L388.45 139.23L388.7 139.16L388.95 139.09L389.2 139.03L389.45 138.96L389.7 138.9L389.95 138.85L390.2 138.79L390.45 138.74L390.7 138.69L390.95 138.65L391.2 138.61L391.45 138.57L391.7 138.53L391.95 138.5L392.2 138.47L392.45 138.44L392.7 138.41L392.95 138.39L393.2 138.37L393.45 138.35L393.7 138.33L393.95 138.32L394.2 138.3L394.45 138.29L394.7 138.28L394.95 138.27L395.2 138.26L395.45 138.25L395.7 138.24L395.95 138.24L396.2 138.23L396.45 138.23L396.7 138.22L396.95 138.22L397.2 138.22L397.45 138.21L397.7 138.21L397.95 138.21L398.2 138.21L398.45 138.21L398.7 138.21L398.95 138.2L399.2 138.2L399.45 138.2L399.7 138.2L399.95 138.2L400.2 138.2L400.45 138.2L400.7 138.2L400.95 138.2L401.2 138.2L401.45 138.2L401.7 138.2L401.95 138.2L402.2 138.2L402.45 138.2L402.7 138.2L402.95 138.2L403.2 138.2L403.45 138.2L403.7 138.2L403.95 138.2L404.2 138.2L404.45 138.2L404.7 138.2L404.95 138.2L405.2 138.2L405.45 138.2L405.7 138.2L405.95 138.2L406.2 138.2L406.45 138.2L406.7 138.21L406.95 138.21L407.2 138.21L407.45 138.21L407.7 138.21L407.95 138.21L408.2 138.21L408.45 138.21L408.7 138.21L408.95 138.21L409.2 138.21L409.45 138.21L409.7 138.22L409.95 138.22L410.2 138.22L410.45 138.22L410.7 138.22L410.95 138.22L411.2 138.23L411.45 138.23L411.7 138.23L411.95 138.23L412.2 138.23L412.45 138.24L412.7 138.24L412.95 138.24L413.2 138.25L413.45 138.25L413.7 138.26L413.95 138.26L414.2 138.26L414.45 138.27L414.7 138.27L414.95 138.28L415.2 138.29L415.45 138.29L415.7 138.3L415.95 138.31L416.2 138.31L416.45 138.32L416.7 138.33L416.95 138.34L417.2 138.35L417.45 138.36L417.7 138.37L417.95 138.38L418.2 138.39L418.45 138.4L418.7 138.41L418.95 138.43L419.2 138.44L419.45 138.46L419.7 138.47L419.95 138.49L420.2 138.5L420.45 138.52L420.7 138.54L420.95 138.56L421.2 138.58L421.45 138.6L421.7 138.62L421.95 138.64L422.2 138.66L422.45 138.68L422.7 138.71L422.95 138.73L423.2 138.76L423.45 138.78L423.7 138.81L423.95 138.84L424.2 138.87L424.45 138.9L424.7 138.93L424.95 138.96L425.2 138.99L425.45 139.03L425.7 139.06L425.95 139.1L426.2 139.13L426.45 139.17L426.7 139.2L426.95 139.24L427.2 139.28L427.45 139.32L427.7 139.36L427.95 139.4L428.2 139.44L428.45 139.48L428.7 139.53L428.95 139.57L429.2 139.61L429.45 139.66L429.7 139.7L429.95 139.75L430.2 139.79L430.45 139.84L430.7 139.88L430.95 139.93L431.2 139.98L431.45 140.02L431.7 140.07L431.95 140.12L432.2 140.16L432.45 140.21L432.7 140.26L432.95 140.3L433.2 140.35L433.45 140.4L433.7 140.44L433.95 140.49L434.2 140.54L434.45 140.58L434.7 140.63L434.95 140.67L435.2 140.72L435.45 140.76L435.7 140.8L435.95 140.85L436.2 140.89L436.45 140.93L436.7 140.97L436.95 141.02L437.2 141.06L437.45 141.1L437.7 141.13L437.95 141.17L438.2 141.21L438.45 141.25L438.7 141.28L438.95 141.32L439.2 141.35L439.45 141.39L439.7 141.42L439.95 141.45L440.2 141.48L440.45 141.51L440.7 141.54L440.95 141.57L441.2 141.6L441.45 141.63L441.7 141.65L441.95 141.68L442.2 141.7L442.45 141.73L442.7 141.75L442.95 141.77L443.2 141.79L443.45 141.81L443.7 141.83L443.95 141.85L444.2 141.87L444.45 141.89L444.7 141.9L444.95 141.92L445.2 141.94L445.45 141.95L445.7 141.96L445.95 141.98L446.2 141.99L446.45 142L446.7 142.01L446.95 142.03L447.2 142.04L447.45 142.05L447.7 142.06L447.95 142.07L448.2 142.07L448.45 142.08L448.7 142.09L448.95 142.1L449.2 142.1L449.45 142.11L449.7 142.12L449.95 142.12L450.2 142.13L450.45 142.13L450.7 142.14L450.95 142.14L451.2 142.15L451.45 142.15L451.7 142.15L451.95 142.16L452.2 142.16L452.45 142.16L452.7 142.17L452.95 142.17L453.2 142.17L453.45 142.17L453.7 142.18L453.95 142.18L454.2 142.18L454.45 142.18L454.7 142.18L454.95 142.18L455.2 142.19L455.45 142.19L455.7 142.19L455.95 142.19L456.2 142.19L456.45 142.19L456.7 142.19L456.95 142.19L457.2 142.19L457.45 142.19L457.7 142.19L457.95 142.19L458.2 142.2L458.45 142.2L458.7 142.2L458.95 142.2L459.2 142.2L459.45 142.2L459.7 142.2L459.95 142.2L460.2 142.2L460.45 142.2L460.7 142.2L460.95 142.2L461.2 142.2L461.45 142.2L461.7 142.2L461.95 142.2L462.15 142.2Z"/></clipPath><g clip-path="url(#cb)" stroke="#0000ff" stroke-width="1.5"><line x1="359.9" y1="135.2" x2="369.9" y2="145.2"/><line x1="369.1" y1="135.2" x2="379.1" y2="145.2"/><line x1="378.3" y1="135.2" x2="388.3" y2="145.2"/><line x1="387.5" y1="135.2" x2="397.5" y2="145.2"/><line x1="396.7" y1="135.2" x2="406.7" y2="145.2"/><line x1="405.9" y1="135.2" x2="415.9" y2="145.2"/><line x1="415.1" y1="135.2" x2="425.1" y2="145.2"/><line x1="424.3" y1="135.2" x2="434.3" y2="145.2"/><line x1="433.5" y1="135.2" x2="443.5" y2="145.2"/><line x1="442.7" y1="135.2" x2="452.7" y2="145.2"/><line x1="451.9" y1="135.2" x2="461.9" y2="145.2"/><line x1="461.1" y1="135.2" x2="471.1" y2="145.2"/></g>
<path d="M370.2 142.2L370.7 142.2L371.2 142.2L371.7 142.2L372.2 142.2L372.7 142.19L373.2 142.19L373.7 142.19L374.2 142.18L374.7 142.17L375.2 142.16L375.7 142.15L376.2 142.13L376.7 142.11L377.2 142.09L377.7 142.05L378.2 142.01L378.7 141.97L379.2 141.91L379.7 141.84L380.2 141.76L380.7 141.67L381.2 141.57L381.7 141.45L382.2 141.32L382.7 141.18L383.2 141.03L383.7 140.87L384.2 140.7L384.7 140.52L385.2 140.34L385.7 140.16L386.2 139.98L386.7 139.81L387.2 139.63L387.7 139.47L388.2 139.31L388.7 139.16L389.2 139.03L389.7 138.9L390.2 138.79L390.7 138.69L391.2 138.61L391.7 138.53L392.2 138.47L392.7 138.41L393.2 138.37L393.7 138.33L394.2 138.3L394.7 138.28L395.2 138.26L395.7 138.24L396.2 138.23L396.7 138.22L397.2 138.22L397.7 138.21L398.2 138.21L398.7 138.21L399.2 138.2L399.7 138.2L400.2 138.2L400.7 138.2L401.2 138.2L401.7 138.2L402.2 138.2L402.7 138.2L403.2 138.2L403.7 138.2L404.2 138.2L404.7 138.2L405.2 138.2L405.7 138.2L406.2 138.2L406.7 138.21L407.2 138.21L407.7 138.21L408.2 138.21L408.7 138.21L409.2 138.21L409.7 138.22L410.2 138.22L410.7 138.22L411.2 138.23L411.7 138.23L412.2 138.23L412.7 138.24L413.2 138.25L413.7 138.26L414.2 138.26L414.7 138.27L415.2 138.29L415.7 138.3L416.2 138.31L416.7 138.33L417.2 138.35L417.7 138.37L418.2 138.39L418.7 138.41L419.2 138.44L419.7 138.47L420.2 138.5L420.7 138.54L421.2 138.58L421.7 138.62L422.2 138.66L422.7 138.71L423.2 138.76L423.7 138.81L424.2 138.87L424.7 138.93L425.2 138.99L425.7 139.06L426.2 139.13L426.7 139.2L427.2 139.28L427.7 139.36L428.2 139.44L428.7 139.53L429.2 139.61L429.7 139.7L430.2 139.79L430.7 139.88L431.2 139.98L431.7 140.07L432.2 140.16L432.7 140.26L433.2 140.35L433.7 140.44L434.2 140.54L434.7 140.63L435.2 140.72L435.7 140.8L436.2 140.89L436.7 140.97L437.2 141.06L437.7 141.13L438.2 141.21L438.7 141.28L439.2 141.35L439.7 141.42L440.2 141.48L440.7 141.54L441.2 141.6L441.7 141.65L442.2 141.7L442.7 141.75L443.2 141.79L443.7 141.83L444.2 141.87L444.7 141.9L445.2 141.94L445.7 141.96L446.2 141.99L446.7 142.01L447.2 142.04L447.7 142.06L448.2 142.07L448.7 142.09L449.2 142.1L449.7 142.12L450.2 142.13L450.7 142.14L451.2 142.15L451.7 142.15L452.2 142.16L452.7 142.17L453.2 142.17L453.7 142.18L454.2 142.18L454.7 142.18L455.2 142.19L455.7 142.19L456.2 142.19L456.7 142.19L457.2 142.19L457.7 142.19L458.2 142.2L458.7 142.2L459.2 142.2L459.7 142.2L460.2 142.2L460.7 142.2L461.2 142.2L461.7 142.2" fill="none" stroke="#333" stroke-width="0.5"/>
<path d="M343.7 132L347.4 136.9L352.3 138.7L364.6 140.3L372 139.3L375.7 136.9L379.3 130.7L383 120.9L385.5 116L388 116L390.5 116L392.4 123.4L394.2 132L397.3 136.9L403.4 138.1L409.6 138.1L420 137.7L426 136.5L432.7 135L439.1 135.5L444.5 137.7L449.1 140L452.3 141.5" fill="none" stroke="#555" stroke-width="0.6"/>
<path d="M336.9 56L337.1 35L337.3 23.2L338.1 23.2L338.4 35L338.8 56L339.4 85L340 111.1L341.2 115.4L342.5 119.1L343.7 125.8L344.9 131.4L346.1 134.4L347.4 135.7L348.6 136.3L349.8 135.7L351.1 136.9L352.3 137.5L353.5 138.1L354.8 139.1L356 139.3L357.2 138.4L358.4 137.5L359.1 138.7L360.3 139.6L361.5 139.1L362.7 139.3L364 140L365.2 139.1L366.4 139.6L367.7 139.1L368.9 140.6L370.1 140L371.4 138.1L372.6 135.7L373.8 136.9L375 137.5L376.3 135.7L377.5 131.4L378.7 128.3L380 125.2L381.2 122.1L382.4 116L383.6 112.3L385 110.5L386.2 111.7L387.5 109.8L388.7 104.9L389.7 106.8L390.2 114.8L390.9 116.6L391.8 118.4L392.4 122.7L393 127.7L393.9 130.7L394.8 132.6L396.1 134.4L397.3 136.9L398.5 135L399.8 134.4L401 135.7L402.2 136.9L403.4 135.7L404.7 136.3L405.9 135.7L407.1 136.9L408.4 136.3L409.6 136.9L410 137.3L410.9 135L411.8 133.6L412.7 134.1L413.6 134.5L414.5 133.6L415.5 135L416.4 134.1L417.3 135.5L418.2 136.4L419.1 134.5L420 133.6L420.9 132.3L421.8 131.8L422.7 131.4L423.5 132.7L424.1 136.8L424.7 133.6L425.5 133.2L426.4 134.1L427.3 133.2L428.2 133.6L429.1 133.6L430 134.1L430.9 132.7L431.8 131.8L432.5 133.6L433.2 135L434.1 133.6L435 132.7L435.9 131.8L436.8 131.8L437.7 132.7L438.6 133.2L439.5 134.1L440.9 135L442.3 135.9L443.6 136.8L445 137.7L446.4 138.6L447.3 139.5L448.2 139.1L449.1 140L450 140.9L451.4 141.4L453.6 141.8L460 142" fill="none" stroke="#111" stroke-width="1.05" stroke-linejoin="round"/>
<path d="M334.3 4.2V142.2H484.3" stroke="#2a2a2a" stroke-width="0.9" fill="none"/>
<path d="M329.7 142.2H334.3M332.1 136.66H334.3M332.1 131.12H334.3M332.1 125.58H334.3M332.1 120.04H334.3M329.7 114.5H334.3M332.1 108.96H334.3M332.1 103.42H334.3M332.1 97.88H334.3M332.1 92.34H334.3M329.7 86.8H334.3M332.1 81.26H334.3M332.1 75.72H334.3M332.1 70.18H334.3M332.1 64.64H334.3M329.7 59.1H334.3M332.1 53.56H334.3M332.1 48.02H334.3M332.1 42.48H334.3M332.1 36.94H334.3M329.7 31.4H334.3M332.1 25.86H334.3M332.1 20.32H334.3M332.1 14.78H334.3M332.1 9.24H334.3M334.3 142.2V146.5M340.3 142.2V144.5M346.3 142.2V144.5M352.3 142.2V144.5M358.3 142.2V144.5M364.3 142.2V146.5M370.3 142.2V144.5M376.3 142.2V144.5M382.3 142.2V144.5M388.3 142.2V144.5M394.3 142.2V146.5M400.3 142.2V144.5M406.3 142.2V144.5M412.3 142.2V144.5M418.3 142.2V144.5M424.3 142.2V146.5M430.3 142.2V144.5M436.3 142.2V144.5M442.3 142.2V144.5M448.3 142.2V144.5M454.3 142.2V146.5M460.3 142.2V144.5M466.3 142.2V144.5M472.3 142.2V144.5M478.3 142.2V144.5M484.3 142.2V146.5" stroke="#2a2a2a" stroke-width="0.8" fill="none"/>
<g font-family="Liberation Sans, sans-serif" font-size="5" fill="#333" stroke="#333" stroke-width="0.12"><text x="334.3" y="150.8" text-anchor="middle" font-size="4.5">0</text><text x="364.3" y="150.8" text-anchor="middle" font-size="4.5">30</text><text x="394.3" y="150.8" text-anchor="middle" font-size="4.5">60</text><text x="424.3" y="150.8" text-anchor="middle" font-size="4.5">90</text><text x="454.3" y="150.8" text-anchor="middle" font-size="4.5">120</text><text x="484.3" y="150.8" text-anchor="middle" font-size="4.5">150</text><text transform="translate(329.5 142.2) rotate(-90)" text-anchor="middle" font-size="4.5">0</text><text transform="translate(329.5 114.5) rotate(-90)" text-anchor="middle" font-size="4.5">50</text><text transform="translate(329.5 86.8) rotate(-90)" text-anchor="middle" font-size="4.5">100</text><text transform="translate(329.5 59.1) rotate(-90)" text-anchor="middle" font-size="4.5">150</text><text transform="translate(329.5 31.4) rotate(-90)" text-anchor="middle" font-size="4.5">200</text><text transform="translate(324.7 73.2) rotate(-90)" text-anchor="middle">Number</text><text x="409.3" y="155.3" text-anchor="middle" font-size="5.25">Channels (PE-A)</text></g>
<path d="M16.3 328.6L16.3 303.3L16.55 304.09L16.8 304.87L17.05 305.66L17.3 306.44L17.55 307.21L17.8 307.98L18.05 308.75L18.3 309.51L18.55 310.27L18.8 311.03L19.05 311.78L19.3 312.53L19.55 313.27L19.8 314.01L20.05 314.74L20.3 315.47L20.55 316.2L20.8 316.91L21.05 317.63L21.3 318.33L21.55 319.03L21.8 319.72L22.05 320.41L22.3 321.09L22.55 321.76L22.8 322.42L23.05 323.08L23.3 323.72L23.55 324.35L23.8 324.97L24.05 325.58L24.3 326.17L24.55 326.74L24.8 327.29L25.05 327.81L25.3 328.29L25.55 328.6L25.6 328.6Z" fill="#00ffff"/>
<path d="M57.2 328.6L57.2 328.57L57.45 328.56L57.7 328.55L57.95 328.54L58.2 328.53L58.45 328.52L58.7 328.51L58.95 328.49L59.2 328.47L59.45 328.44L59.7 328.41L59.95 328.38L60.2 328.34L60.45 328.29L60.7 328.24L60.95 328.18L61.2 328.11L61.45 328.03L61.7 327.94L61.95 327.83L62.2 327.71L62.45 327.57L62.7 327.42L62.95 327.24L63.2 327.05L63.45 326.82L63.7 326.57L63.95 326.29L64.2 325.98L64.45 325.63L64.7 325.24L64.95 324.8L65.2 324.33L65.45 323.8L65.7 323.22L65.95 322.58L66.2 321.88L66.45 321.12L66.7 320.29L66.95 319.39L67.2 318.41L67.45 317.36L67.7 316.22L67.95 315L68.2 313.69L68.45 312.29L68.7 310.8L68.95 309.22L69.2 307.54L69.45 305.77L69.7 303.91L69.95 301.95L70.2 299.9L70.45 297.76L70.7 295.53L70.95 293.23L71.2 290.84L71.45 288.39L71.7 285.87L71.95 283.3L72.2 280.67L72.45 278.01L72.7 275.32L72.95 272.61L73.2 269.89L73.45 267.18L73.7 264.49L73.95 261.82L74.2 259.2L74.45 256.64L74.7 254.14L74.95 251.74L75.2 249.43L75.45 247.23L75.7 245.16L75.95 243.23L76.2 241.44L76.45 239.82L76.7 238.36L76.95 237.09L77.2 236L77.45 235.11L77.7 234.42L77.95 233.94L78.2 233.67L78.45 233.6L78.7 233.75L78.95 234.11L79.2 234.68L79.45 235.45L79.7 236.42L79.95 237.58L80.2 238.92L80.45 240.45L80.7 242.14L80.95 243.98L81.2 245.97L81.45 248.1L81.7 250.34L81.95 252.69L82.2 255.13L82.45 257.65L82.7 260.24L82.95 262.88L83.2 265.56L83.45 268.26L83.7 270.98L83.95 273.7L84.2 276.4L84.45 279.08L84.7 281.73L84.95 284.33L85.2 286.89L85.45 289.38L85.7 291.81L85.95 294.16L86.2 296.43L86.45 298.62L86.7 300.73L86.95 302.74L87.2 304.66L87.45 306.49L87.7 308.22L87.95 309.86L88.2 311.41L88.45 312.86L88.7 314.23L88.95 315.5L89.2 316.69L89.45 317.79L89.7 318.81L89.95 319.76L90.2 320.63L90.45 321.43L90.7 322.17L90.95 322.84L91.2 323.46L91.45 324.02L91.7 324.52L91.95 324.98L92.2 325.4L92.45 325.77L92.7 326.11L92.95 326.41L93.2 326.67L93.45 326.91L93.7 327.13L93.95 327.32L94.2 327.48L94.45 327.63L94.7 327.76L94.95 327.87L95.2 327.97L95.45 328.06L95.7 328.14L95.95 328.2L96.2 328.26L96.45 328.31L96.7 328.36L96.95 328.39L97.2 328.42L97.45 328.45L97.7 328.47L97.95 328.49L98.2 328.51L98.45 328.53L98.7 328.54L98.95 328.55L99.2 328.56L99.45 328.56L99.6 328.6Z" fill="#ff0000"/>
<path d="M98.8 328.6L98.8 328.59L99.05 328.59L99.3 328.59L99.55 328.59L99.8 328.59L100.05 328.59L100.3 328.59L100.55 328.59L100.8 328.58L101.05 328.58L101.3 328.58L101.55 328.58L101.8 328.58L102.05 328.57L102.3 328.57L102.55 328.57L102.8 328.56L103.05 328.56L103.3 328.56L103.55 328.55L103.8 328.55L104.05 328.54L104.3 328.53L104.55 328.53L104.8 328.52L105.05 328.51L105.3 328.5L105.55 328.5L105.8 328.49L106.05 328.47L106.3 328.46L106.55 328.45L106.8 328.44L107.05 328.42L107.3 328.41L107.55 328.39L107.8 328.37L108.05 328.35L108.3 328.33L108.55 328.3L108.8 328.28L109.05 328.25L109.3 328.22L109.55 328.19L109.8 328.16L110.05 328.12L110.3 328.08L110.55 328.04L110.8 328L111.05 327.95L111.3 327.9L111.55 327.85L111.8 327.79L112.05 327.74L112.3 327.67L112.55 327.61L112.8 327.53L113.05 327.46L113.3 327.38L113.55 327.3L113.8 327.21L114.05 327.11L114.3 327.02L114.55 326.91L114.8 326.8L115.05 326.69L115.3 326.57L115.55 326.45L115.8 326.31L116.05 326.18L116.3 326.03L116.55 325.88L116.8 325.73L117.05 325.56L117.3 325.4L117.55 325.22L117.8 325.04L118.05 324.85L118.3 324.65L118.55 324.45L118.8 324.24L119.05 324.02L119.3 323.79L119.55 323.56L119.8 323.32L120.05 323.08L120.3 322.83L120.55 322.57L120.8 322.3L121.05 322.03L121.3 321.75L121.55 321.47L121.8 321.18L122.05 320.88L122.3 320.58L122.55 320.28L122.8 319.97L123.05 319.65L123.3 319.34L123.55 319.02L123.8 318.69L124.05 318.36L124.3 318.03L124.55 317.7L124.8 317.37L125.05 317.03L125.3 316.7L125.55 316.37L125.8 316.03L126.05 315.7L126.3 315.37L126.55 315.04L126.8 314.72L127.05 314.4L127.3 314.08L127.55 313.77L127.8 313.46L128.05 313.16L128.3 312.87L128.55 312.59L128.8 312.31L129.05 312.04L129.3 311.78L129.55 311.53L129.8 311.29L130.05 311.06L130.3 310.84L130.55 310.64L130.8 310.44L131.05 310.26L131.3 310.09L131.55 309.94L131.8 309.8L132.05 309.67L132.3 309.56L132.55 309.46L132.8 309.38L133.05 309.31L133.3 309.26L133.55 309.23L133.8 309.21L134.05 309.2L134.3 309.21L134.55 309.24L134.8 309.28L135.05 309.34L135.3 309.41L135.55 309.5L135.8 309.6L136.05 309.72L136.3 309.85L136.55 310L136.8 310.16L137.05 310.33L137.3 310.52L137.55 310.72L137.8 310.93L138.05 311.15L138.3 311.38L138.55 311.63L138.8 311.88L139.05 312.15L139.3 312.42L139.55 312.7L139.8 312.99L140.05 313.28L140.3 313.59L140.55 313.89L140.8 314.21L141.05 314.53L141.3 314.85L141.55 315.17L141.8 315.5L142.05 315.83L142.3 316.17L142.55 316.5L142.8 316.83L143.05 317.17L143.3 317.5L143.55 317.83L143.8 318.16L144.05 318.49L144.3 318.82L144.55 319.14L144.8 319.46L145.05 319.78L145.3 320.09L145.55 320.4L145.8 320.7L146.05 321L146.3 321.3L146.55 321.58L146.8 321.86L147.05 322.14L147.3 322.41L147.55 322.67L147.8 322.93L148.05 323.18L148.3 323.42L148.55 323.65L148.8 323.88L149.05 324.11L149.3 324.32L149.55 324.53L149.8 324.73L150.05 324.92L150.3 325.11L150.55 325.29L150.8 325.46L151.05 325.63L151.3 325.79L151.55 325.94L151.8 326.09L152.05 326.23L152.3 326.37L152.55 326.5L152.8 326.62L153.05 326.74L153.3 326.85L153.55 326.96L153.8 327.06L154.05 327.15L154.3 327.24L154.55 327.33L154.8 327.41L155.05 327.49L155.3 327.56L155.55 327.63L155.8 327.7L156.05 327.76L156.3 327.82L156.55 327.87L156.8 327.92L157.05 327.97L157.3 328.02L157.55 328.06L157.8 328.1L158.05 328.14L158.3 328.17L158.55 328.2L158.8 328.23L159.05 328.26L159.3 328.29L159.55 328.31L159.8 328.34L160.05 328.36L160.3 328.38L160.55 328.4L160.8 328.41L161.05 328.43L161.3 328.44L161.55 328.46L161.8 328.47L162.05 328.48L162.3 328.49L162.55 328.5L162.8 328.51L163.05 328.52L163.3 328.52L163.55 328.53L163.8 328.54L164.05 328.54L164.3 328.55L164.55 328.55L164.8 328.56L165.05 328.56L165.3 328.57L165.55 328.57L165.8 328.57L166.05 328.57L166.3 328.58L166.55 328.58L166.8 328.58L167.05 328.58L167.3 328.58L167.55 328.59L167.8 328.59L168.05 328.59L168.3 328.59L168.55 328.59L168.8 328.59L169.05 328.59L169.2 328.6Z" fill="#ff0000"/>
<clipPath id="cc"><path d="M59.85 328.6L59.85 328.6L60.1 328.6L60.35 328.59L60.6 328.59L60.85 328.59L61.1 328.59L61.35 328.59L61.6 328.59L61.85 328.59L62.1 328.58L62.35 328.58L62.6 328.58L62.85 328.57L63.1 328.57L63.35 328.56L63.6 328.56L63.85 328.55L64.1 328.54L64.35 328.53L64.6 328.52L64.85 328.51L65.1 328.5L65.35 328.49L65.6 328.47L65.85 328.45L66.1 328.43L66.35 328.41L66.6 328.39L66.85 328.36L67.1 328.33L67.35 328.3L67.6 328.26L67.85 328.22L68.1 328.17L68.35 328.12L68.6 328.07L68.85 328.01L69.1 327.95L69.35 327.88L69.6 327.81L69.85 327.73L70.1 327.64L70.35 327.54L70.6 327.44L70.85 327.33L71.1 327.22L71.35 327.1L71.6 326.96L71.85 326.82L72.1 326.68L72.35 326.52L72.6 326.35L72.85 326.18L73.1 326L73.35 325.81L73.6 325.61L73.85 325.4L74.1 325.18L74.35 324.95L74.6 324.72L74.85 324.48L75.1 324.23L75.35 323.97L75.6 323.7L75.85 323.43L76.1 323.15L76.35 322.87L76.6 322.58L76.85 322.29L77.1 321.99L77.35 321.69L77.6 321.38L77.85 321.08L78.1 320.77L78.35 320.46L78.6 320.15L78.85 319.85L79.1 319.54L79.35 319.23L79.6 318.93L79.85 318.63L80.1 318.34L80.35 318.05L80.6 317.76L80.85 317.48L81.1 317.21L81.35 316.94L81.6 316.68L81.85 316.42L82.1 316.18L82.35 315.94L82.6 315.71L82.85 315.49L83.1 315.28L83.35 315.07L83.6 314.88L83.85 314.69L84.1 314.51L84.35 314.35L84.6 314.19L84.85 314.03L85.1 313.89L85.35 313.76L85.6 313.63L85.85 313.51L86.1 313.4L86.35 313.3L86.6 313.2L86.85 313.11L87.1 313.03L87.35 312.95L87.6 312.88L87.85 312.81L88.1 312.75L88.35 312.7L88.6 312.65L88.85 312.6L89.1 312.56L89.35 312.52L89.6 312.48L89.85 312.45L90.1 312.42L90.35 312.4L90.6 312.38L90.85 312.35L91.1 312.34L91.35 312.32L91.6 312.3L91.85 312.29L92.1 312.28L92.35 312.27L92.6 312.26L92.85 312.25L93.1 312.25L93.35 312.24L93.6 312.23L93.85 312.23L94.1 312.23L94.35 312.22L94.6 312.22L94.85 312.22L95.1 312.21L95.35 312.21L95.6 312.21L95.85 312.21L96.1 312.21L96.35 312.21L96.6 312.21L96.85 312.2L97.1 312.2L97.35 312.2L97.6 312.2L97.85 312.2L98.1 312.2L98.35 312.2L98.6 312.2L98.85 312.2L99.1 312.2L99.35 312.2L99.6 312.2L99.85 312.2L100.1 312.2L100.35 312.2L100.6 312.2L100.85 312.2L101.1 312.2L101.35 312.2L101.6 312.2L101.85 312.2L102.1 312.2L102.35 312.2L102.6 312.2L102.85 312.2L103.1 312.2L103.35 312.2L103.6 312.2L103.85 312.21L104.1 312.21L104.35 312.21L104.6 312.21L104.85 312.21L105.1 312.21L105.35 312.21L105.6 312.21L105.85 312.21L106.1 312.21L106.35 312.21L106.6 312.22L106.85 312.22L107.1 312.22L107.35 312.22L107.6 312.22L107.85 312.22L108.1 312.23L108.35 312.23L108.6 312.23L108.85 312.23L109.1 312.24L109.35 312.24L109.6 312.25L109.85 312.25L110.1 312.25L110.35 312.26L110.6 312.26L110.85 312.27L111.1 312.28L111.35 312.28L111.6 312.29L111.85 312.3L112.1 312.31L112.35 312.31L112.6 312.32L112.85 312.33L113.1 312.34L113.35 312.36L113.6 312.37L113.85 312.38L114.1 312.39L114.35 312.41L114.6 312.43L114.85 312.44L115.1 312.46L115.35 312.48L115.6 312.5L115.85 312.52L116.1 312.54L116.35 312.57L116.6 312.59L116.85 312.62L117.1 312.65L117.35 312.68L117.6 312.71L117.85 312.75L118.1 312.78L118.35 312.82L118.6 312.86L118.85 312.9L119.1 312.94L119.35 312.99L119.6 313.03L119.85 313.08L120.1 313.14L120.35 313.19L120.6 313.25L120.85 313.31L121.1 313.37L121.35 313.43L121.6 313.5L121.85 313.57L122.1 313.65L122.35 313.72L122.6 313.8L122.85 313.88L123.1 313.97L123.35 314.05L123.6 314.15L123.85 314.24L124.1 314.34L124.35 314.44L124.6 314.54L124.85 314.65L125.1 314.76L125.35 314.87L125.6 314.99L125.85 315.11L126.1 315.23L126.35 315.35L126.6 315.48L126.85 315.62L127.1 315.75L127.35 315.89L127.6 316.03L127.85 316.17L128.1 316.32L128.35 316.47L128.6 316.62L128.85 316.78L129.1 316.94L129.35 317.1L129.6 317.26L129.85 317.43L130.1 317.59L130.35 317.76L130.6 317.93L130.85 318.11L131.1 318.28L131.35 318.46L131.6 318.64L131.85 318.82L132.1 319L132.35 319.18L132.6 319.36L132.85 319.55L133.1 319.73L133.35 319.92L133.6 320.1L133.85 320.29L134.1 320.47L134.35 320.66L134.6 320.85L134.85 321.03L135.1 321.22L135.35 321.4L135.6 321.58L135.85 321.77L136.1 321.95L136.35 322.13L136.6 322.31L136.85 322.48L137.1 322.66L137.35 322.83L137.6 323L137.85 323.17L138.1 323.34L138.35 323.51L138.6 323.67L138.85 323.83L139.1 323.99L139.35 324.15L139.6 324.3L139.85 324.45L140.1 324.6L140.35 324.74L140.6 324.88L140.85 325.02L141.1 325.16L141.35 325.29L141.6 325.42L141.85 325.55L142.1 325.67L142.35 325.79L142.6 325.91L142.85 326.02L143.1 326.13L143.35 326.24L143.6 326.34L143.85 326.44L144.1 326.54L144.35 326.64L144.6 326.73L144.85 326.82L145.1 326.9L145.35 326.98L145.6 327.06L145.85 327.14L146.1 327.21L146.35 327.28L146.6 327.35L146.85 327.42L147.1 327.48L147.35 327.54L147.6 327.6L147.85 327.65L148.1 327.71L148.35 327.76L148.6 327.8L148.85 327.85L149.1 327.89L149.35 327.93L149.6 327.97L149.85 328.01L150.1 328.05L150.35 328.08L150.6 328.11L150.85 328.14L151.1 328.17L151.35 328.2L151.6 328.23L151.85 328.25L152.1 328.27L152.35 328.3L152.6 328.32L152.85 328.34L153.1 328.35L153.35 328.37L153.6 328.39L153.85 328.4L154.1 328.42L154.35 328.43L154.6 328.44L154.85 328.45L155.1 328.46L155.35 328.47L155.6 328.48L155.85 328.49L156.1 328.5L156.35 328.51L156.6 328.52L156.85 328.52L157.1 328.53L157.35 328.53L157.6 328.54L157.85 328.54L158.1 328.55L158.35 328.55L158.6 328.56L158.85 328.56L159.1 328.56L159.35 328.57L159.6 328.57L159.85 328.57L160.1 328.58L160.35 328.58L160.6 328.58L160.85 328.58L161.1 328.58L161.35 328.58L161.6 328.59L161.85 328.59L162.1 328.59L162.35 328.59L162.6 328.59L162.85 328.59L163.1 328.59L163.35 328.59L163.6 328.59L163.85 328.59L164.1 328.59L164.35 328.6L164.6 328.6L164.8 328.6Z"/></clipPath><g clip-path="url(#cc)" stroke="#0000ff" stroke-width="1.5"><line x1="39.8" y1="309.2" x2="62.2" y2="331.6"/><line x1="49" y1="309.2" x2="71.4" y2="331.6"/><line x1="58.2" y1="309.2" x2="80.6" y2="331.6"/><line x1="67.4" y1="309.2" x2="89.8" y2="331.6"/><line x1="76.6" y1="309.2" x2="99" y2="331.6"/><line x1="85.8" y1="309.2" x2="108.2" y2="331.6"/><line x1="95" y1="309.2" x2="117.4" y2="331.6"/><line x1="104.2" y1="309.2" x2="126.6" y2="331.6"/><line x1="113.4" y1="309.2" x2="135.8" y2="331.6"/><line x1="122.6" y1="309.2" x2="145" y2="331.6"/><line x1="131.8" y1="309.2" x2="154.2" y2="331.6"/><line x1="141" y1="309.2" x2="163.4" y2="331.6"/><line x1="150.2" y1="309.2" x2="172.6" y2="331.6"/><line x1="159.4" y1="309.2" x2="181.8" y2="331.6"/><line x1="168.6" y1="309.2" x2="191" y2="331.6"/></g>
<path d="M59.85 328.6L60.35 328.59L60.85 328.59L61.35 328.59L61.85 328.59L62.35 328.58L62.85 328.57L63.35 328.56L63.85 328.55L64.35 328.53L64.85 328.51L65.35 328.49L65.85 328.45L66.35 328.41L66.85 328.36L67.35 328.3L67.85 328.22L68.35 328.12L68.85 328.01L69.35 327.88L69.85 327.73L70.35 327.54L70.85 327.33L71.35 327.1L71.85 326.82L72.35 326.52L72.85 326.18L73.35 325.81L73.85 325.4L74.35 324.95L74.85 324.48L75.35 323.97L75.85 323.43L76.35 322.87L76.85 322.29L77.35 321.69L77.85 321.08L78.35 320.46L78.85 319.85L79.35 319.23L79.85 318.63L80.35 318.05L80.85 317.48L81.35 316.94L81.85 316.42L82.35 315.94L82.85 315.49L83.35 315.07L83.85 314.69L84.35 314.35L84.85 314.03L85.35 313.76L85.85 313.51L86.35 313.3L86.85 313.11L87.35 312.95L87.85 312.81L88.35 312.7L88.85 312.6L89.35 312.52L89.85 312.45L90.35 312.4L90.85 312.35L91.35 312.32L91.85 312.29L92.35 312.27L92.85 312.25L93.35 312.24L93.85 312.23L94.35 312.22L94.85 312.22L95.35 312.21L95.85 312.21L96.35 312.21L96.85 312.2L97.35 312.2L97.85 312.2L98.35 312.2L98.85 312.2L99.35 312.2L99.85 312.2L100.35 312.2L100.85 312.2L101.35 312.2L101.85 312.2L102.35 312.2L102.85 312.2L103.35 312.2L103.85 312.21L104.35 312.21L104.85 312.21L105.35 312.21L105.85 312.21L106.35 312.21L106.85 312.22L107.35 312.22L107.85 312.22L108.35 312.23L108.85 312.23L109.35 312.24L109.85 312.25L110.35 312.26L110.85 312.27L111.35 312.28L111.85 312.3L112.35 312.31L112.85 312.33L113.35 312.36L113.85 312.38L114.35 312.41L114.85 312.44L115.35 312.48L115.85 312.52L116.35 312.57L116.85 312.62L117.35 312.68L117.85 312.75L118.35 312.82L118.85 312.9L119.35 312.99L119.85 313.08L120.35 313.19L120.85 313.31L121.35 313.43L121.85 313.57L122.35 313.72L122.85 313.88L123.35 314.05L123.85 314.24L124.35 314.44L124.85 314.65L125.35 314.87L125.85 315.11L126.35 315.35L126.85 315.62L127.35 315.89L127.85 316.17L128.35 316.47L128.85 316.78L129.35 317.1L129.85 317.43L130.35 317.76L130.85 318.11L131.35 318.46L131.85 318.82L132.35 319.18L132.85 319.55L133.35 319.92L133.85 320.29L134.35 320.66L134.85 321.03L135.35 321.4L135.85 321.77L136.35 322.13L136.85 322.48L137.35 322.83L137.85 323.17L138.35 323.51L138.85 323.83L139.35 324.15L139.85 324.45L140.35 324.74L140.85 325.02L141.35 325.29L141.85 325.55L142.35 325.79L142.85 326.02L143.35 326.24L143.85 326.44L144.35 326.64L144.85 326.82L145.35 326.98L145.85 327.14L146.35 327.28L146.85 327.42L147.35 327.54L147.85 327.65L148.35 327.76L148.85 327.85L149.35 327.93L149.85 328.01L150.35 328.08L150.85 328.14L151.35 328.2L151.85 328.25L152.35 328.3L152.85 328.34L153.35 328.37L153.85 328.4L154.35 328.43L154.85 328.45L155.35 328.47L155.85 328.49L156.35 328.51L156.85 328.52L157.35 328.53L157.85 328.54L158.35 328.55L158.85 328.56L159.35 328.57L159.85 328.57L160.35 328.58L160.85 328.58L161.35 328.58L161.85 328.59L162.35 328.59L162.85 328.59L163.35 328.59L163.85 328.59L164.35 328.6" fill="none" stroke="#333" stroke-width="0.5"/>
<path d="M75.75 239.7L76.25 235.49L76.75 231.9L77.25 229.02L77.75 226.91L78.25 225.62L78.75 225.18L79.25 225.57L79.75 226.78L80.25 228.78L80.75 231.49L81.25 234.83L81.75 238.73L82.25 243.06L82.75 247.74L83.25 252.65L83.75 257.69L84.25 262.75L84.75 267.75L85.25 272.6L85.75 277.24L86.25 281.61L86.75 285.68L87.25 289.41L87.75 292.8L88.25 295.82L88.75 298.5L89.25 300.85L89.75 302.87L90.25 304.61L90.75 306.07L91.25 307.3L91.75 308.32L92.25 309.15L92.75 309.82L93.25 310.37L93.75 310.8L94.25 311.14L94.75 311.4L95.25 311.6L95.75 311.76L96.25 311.88L96.75 311.97L97.25 312.03L97.75 312.08L98.25 312.11L98.75 312.14L99.25 312.15L99.75 312.16L100.25 312.17L100.75 312.17L101.25 312.17L101.75 312.17L102.25 312.17L102.75 312.17L103.25 312.16L103.75 312.15L104.25 312.14L104.75 312.13L105.25 312.12L105.75 312.1L106.25 312.08L106.75 312.06L107.25 312.03L107.75 312L108.25 311.96L108.75 311.92L109.25 311.87L109.75 311.81L110.25 311.75L110.75 311.68L111.25 311.59L111.75 311.5L112.25 311.4L112.75 311.28L113.25 311.15L113.75 311L114.25 310.84L114.75 310.66L115.25 310.47L115.75 310.25L116.25 310.02L116.75 309.77L117.25 309.5L117.75 309.2L118.25 308.89L118.75 308.56L119.25 308.21L119.75 307.84L120.25 307.45L120.75 307.04L121.25 306.62L121.75 306.18L122.25 305.74L122.75 305.28L123.25 304.82L123.75 304.36L124.25 303.9L124.75 303.44L125.25 302.99L125.75 302.56L126.25 302.14L126.75 301.75L127.25 301.38L127.75 301.04L128.25 300.74L128.75 300.48L129.25 300.26L129.75 300.09L130.25 299.98L130.75 299.92L131.25 299.91L131.75 299.97L132.25 300.09L132.75 300.27L133.25 300.51L133.75 300.82L134.25 301.19L134.75 301.63L135.25 302.12L135.75 302.67L136.25 303.28L136.75 303.94L137.25 304.64L137.75 305.39L138.25 306.18L138.75 307L139.25 307.85L139.75 308.72L140.25 309.61L140.75 310.51L141.25 311.42L141.75 312.33L142.25 313.24L142.75 314.14L143.25 315.03L143.75 315.9L144.25 316.75L144.75 317.58L145.25 318.38L145.75 319.15L146.25 319.89L146.75 320.6L147.25 321.27L147.75 321.91L148.25 322.51L148.75 323.07L149.25 323.6L149.75 324.09L150.25 324.54L150.75 324.96L151.25 325.35L151.75 325.7L152.25 326.03L152.75 326.32L153.25 326.59L153.75 326.83L154.25 327.05L154.75 327.25L155.25 327.42L155.75 327.57L156.25 327.71L156.75 327.83L157.25 327.94L157.75 328.03L158.25 328.12L158.75 328.19L159.25 328.25L159.75 328.3L160.25 328.35L160.75 328.39L161.25 328.42L161.75 328.45L162.25 328.48L162.75 328.5L163.25 328.52L163.75 328.53L164.25 328.54L164.75 328.55L165.25 328.56L165.75 328.57L166.25 328.57L166.75 328.58L167.25 328.58L167.75 328.59L168.25 328.59L168.75 328.59" fill="none" stroke="#555" stroke-width="0.6"/>
<path d="M16.3 296L16.3 298.6L17.5 301.5L19.2 309.5L20.9 315.9L22.1 318.2L23.2 320.5L24.4 321.6L25.5 324.5L26.7 326.6L28.4 327.4L30.1 327.9L33 328.3L37 327.8L41 328.2L45 327.7L49 328.1L53 327.8L55.5 327.9L56.6 325.5L57.6 327.9L60 327.9L63.2 328.1L65.7 326.3L67.6 321.8L68.9 314.2L69.8 305.3L70.8 296.4L71.8 290L74.9 265L76.5 245L78 225L79.7 199.2L81 225L82.2 223.7L82.4 245L83.9 265L85.5 280L86.2 285L87.2 292.4L88.1 298.5L88.7 301L89.3 298.5L89.9 303.5L90.5 307.8L91.4 304.7L92.4 304.1L93 307.8L94.2 306.5L95.5 309L96.7 307.8L97.9 309.6L99.2 311.5L100.4 312.7L101.6 313.9L102.8 315.2L104.1 313.3L105.3 311.5L106.5 312.7L107.8 310.8L109 309.6L110.2 308.4L111.5 310.2L112.7 305.3L113.6 301.6L114.5 306.5L115.8 309L117 312.7L118.2 309.6L119.5 307.2L120.7 305.3L121.7 309L122.5 304.7L123.8 302.8L124.9 299.8L125.5 301.6L126.4 296.7L127.4 305.9L128 302.2L129.2 299.1L130.5 298.5L131.1 302.8L132 299.1L132.9 297.9L134.1 301L135.4 297.3L136.6 299.8L137.8 296.7L139.1 295.5L139.9 298.5L140.9 302.2L142.1 306.5L143.4 309.6L144.6 312.7L145.8 315.7L147 317.6L148.3 319.4L149.5 320.7L150.1 321.9L151.4 323.7L153.2 325L155.7 326.2L158.1 326.8L159.3 327.4L161.8 328L166 328.3" fill="none" stroke="#111" stroke-width="1.05" stroke-linejoin="round"/>
<path d="M16.4 184.1V328.6H180.62" stroke="#2a2a2a" stroke-width="0.9" fill="none"/>
<path d="M11.8 328.6H16.4M14.2 322.59H16.4M14.2 316.58H16.4M14.2 310.57H16.4M14.2 304.56H16.4M11.8 298.55H16.4M14.2 292.54H16.4M14.2 286.53H16.4M14.2 280.52H16.4M14.2 274.51H16.4M11.8 268.5H16.4M14.2 262.49H16.4M14.2 256.48H16.4M14.2 250.47H16.4M14.2 244.46H16.4M11.8 238.45H16.4M14.2 232.44H16.4M14.2 226.43H16.4M14.2 220.42H16.4M14.2 214.41H16.4M11.8 208.4H16.4M14.2 202.39H16.4M14.2 196.38H16.4M14.2 190.37H16.4M14.2 184.36H16.4M16.4 328.6V332.9M23.44 328.6V330.9M30.48 328.6V330.9M37.51 328.6V330.9M44.55 328.6V330.9M51.59 328.6V332.9M58.63 328.6V330.9M65.67 328.6V330.9M72.7 328.6V330.9M79.74 328.6V330.9M86.78 328.6V332.9M93.82 328.6V330.9M100.86 328.6V330.9M107.89 328.6V330.9M114.93 328.6V330.9M121.97 328.6V332.9M129.01 328.6V330.9M136.05 328.6V330.9M143.08 328.6V330.9M150.12 328.6V330.9M157.16 328.6V332.9M164.2 328.6V330.9M171.24 328.6V330.9M178.27 328.6V330.9" stroke="#2a2a2a" stroke-width="0.8" fill="none"/>
<g font-family="Liberation Sans, sans-serif" font-size="5" fill="#333" stroke="#333" stroke-width="0.12"><text x="16.4" y="337.2" text-anchor="middle" font-size="4.5">0</text><text x="51.59" y="337.2" text-anchor="middle" font-size="4.5">30</text><text x="86.78" y="337.2" text-anchor="middle" font-size="4.5">60</text><text x="121.97" y="337.2" text-anchor="middle" font-size="4.5">90</text><text x="157.16" y="337.2" text-anchor="middle" font-size="4.5">120</text><text transform="translate(11.6 328.6) rotate(-90)" text-anchor="middle" font-size="4.5">0</text><text transform="translate(11.6 298.55) rotate(-90)" text-anchor="middle" font-size="4.5">50</text><text transform="translate(11.6 268.5) rotate(-90)" text-anchor="middle" font-size="4.5">100</text><text transform="translate(11.6 238.45) rotate(-90)" text-anchor="middle" font-size="4.5">150</text><text transform="translate(11.6 208.4) rotate(-90)" text-anchor="middle" font-size="4.5">200</text><text transform="translate(6.8 256.35) rotate(-90)" text-anchor="middle">Number</text><text x="98.51" y="341.7" text-anchor="middle" font-size="5.25">Channels (PE-A)</text></g>
<path d="M197.6 328.6L197.6 281.5L198.6 288L199.3 295L199.8 305L200.2 315L200.8 322L201.6 328.6L201.6 328.6Z" fill="#00ffff"/>
<path d="M238.3 328.6L238.3 328.57L238.55 328.56L238.8 328.54L239.05 328.53L239.3 328.51L239.55 328.48L239.8 328.44L240.05 328.4L240.3 328.35L240.55 328.28L240.8 328.2L241.05 328.1L241.3 327.98L241.55 327.83L241.8 327.64L242.05 327.43L242.3 327.16L242.55 326.85L242.8 326.48L243.05 326.05L243.3 325.54L243.55 324.94L243.8 324.25L244.05 323.45L244.3 322.53L244.55 321.49L244.8 320.3L245.05 318.96L245.3 317.45L245.55 315.78L245.8 313.91L246.05 311.86L246.3 309.61L246.55 307.15L246.8 304.5L247.05 301.64L247.3 298.58L247.55 295.33L247.8 291.9L248.05 288.31L248.3 284.58L248.55 280.72L248.8 276.77L249.05 272.76L249.3 268.71L249.55 264.68L249.8 260.69L250.05 256.79L250.3 253.03L250.55 249.43L250.8 246.06L251.05 242.94L251.3 240.12L251.55 237.64L251.8 235.52L252.05 233.81L252.3 232.51L252.55 231.65L252.8 231.24L253.05 231.28L253.3 231.78L253.55 232.73L253.8 234.12L254.05 235.92L254.3 238.11L254.55 240.66L254.8 243.54L255.05 246.71L255.3 250.14L255.55 253.77L255.8 257.56L256.05 261.48L256.3 265.48L256.55 269.52L256.8 273.56L257.05 277.57L257.3 281.5L257.55 285.34L257.8 289.04L258.05 292.6L258.3 296L258.55 299.21L258.8 302.23L259.05 305.05L259.3 307.66L259.55 310.07L259.8 312.29L260.05 314.3L260.3 316.13L260.55 317.77L260.8 319.24L261.05 320.55L261.3 321.71L261.55 322.73L261.8 323.62L262.05 324.39L262.3 325.07L262.55 325.64L262.8 326.14L263.05 326.56L263.3 326.92L263.55 327.22L263.8 327.47L264.05 327.68L264.3 327.86L264.55 328L264.8 328.12L265.05 328.22L265.3 328.3L265.55 328.36L265.8 328.41L266.05 328.45L266.3 328.48L266.55 328.51L266.8 328.53L267.05 328.55L267.3 328.56L267.5 328.6Z" fill="#ff0000"/>
<path d="M277 328.6L277 328.59L277.25 328.59L277.5 328.59L277.75 328.59L278 328.59L278.25 328.59L278.5 328.58L278.75 328.58L279 328.58L279.25 328.58L279.5 328.57L279.75 328.57L280 328.56L280.25 328.56L280.5 328.55L280.75 328.55L281 328.54L281.25 328.53L281.5 328.52L281.75 328.51L282 328.5L282.25 328.48L282.5 328.47L282.75 328.45L283 328.43L283.25 328.41L283.5 328.39L283.75 328.36L284 328.33L284.25 328.3L284.5 328.27L284.75 328.23L285 328.19L285.25 328.14L285.5 328.09L285.75 328.04L286 327.98L286.25 327.91L286.5 327.84L286.75 327.76L287 327.68L287.25 327.59L287.5 327.49L287.75 327.38L288 327.27L288.25 327.15L288.5 327.01L288.75 326.87L289 326.72L289.25 326.56L289.5 326.39L289.75 326.21L290 326.02L290.25 325.81L290.5 325.59L290.75 325.37L291 325.13L291.25 324.87L291.5 324.61L291.75 324.33L292 324.04L292.25 323.73L292.5 323.42L292.75 323.09L293 322.75L293.25 322.4L293.5 322.04L293.75 321.66L294 321.28L294.25 320.88L294.5 320.48L294.75 320.06L295 319.64L295.25 319.22L295.5 318.78L295.75 318.35L296 317.9L296.25 317.46L296.5 317.02L296.75 316.57L297 316.13L297.25 315.68L297.5 315.25L297.75 314.82L298 314.39L298.25 313.98L298.5 313.57L298.75 313.18L299 312.79L299.25 312.43L299.5 312.08L299.75 311.74L300 311.43L300.25 311.14L300.5 310.86L300.75 310.61L301 310.38L301.25 310.18L301.5 310L301.75 309.85L302 309.72L302.25 309.63L302.5 309.56L302.75 309.51L303 309.5L303.25 309.51L303.5 309.56L303.75 309.63L304 309.72L304.25 309.85L304.5 310L304.75 310.18L305 310.38L305.25 310.61L305.5 310.86L305.75 311.14L306 311.43L306.25 311.74L306.5 312.08L306.75 312.43L307 312.79L307.25 313.18L307.5 313.57L307.75 313.98L308 314.39L308.25 314.82L308.5 315.25L308.75 315.68L309 316.13L309.25 316.57L309.5 317.02L309.75 317.46L310 317.9L310.25 318.35L310.5 318.78L310.75 319.22L311 319.64L311.25 320.06L311.5 320.48L311.75 320.88L312 321.28L312.25 321.66L312.5 322.04L312.75 322.4L313 322.75L313.25 323.09L313.5 323.42L313.75 323.73L314 324.04L314.25 324.33L314.5 324.61L314.75 324.87L315 325.13L315.25 325.37L315.5 325.59L315.75 325.81L316 326.02L316.25 326.21L316.5 326.39L316.75 326.56L317 326.72L317.25 326.87L317.5 327.01L317.75 327.15L318 327.27L318.25 327.38L318.5 327.49L318.75 327.59L319 327.68L319.25 327.76L319.5 327.84L319.75 327.91L320 327.98L320.25 328.04L320.5 328.09L320.75 328.14L321 328.19L321.25 328.23L321.5 328.27L321.75 328.3L322 328.33L322.25 328.36L322.5 328.39L322.75 328.41L323 328.43L323.25 328.45L323.5 328.47L323.75 328.48L324 328.5L324.25 328.51L324.5 328.52L324.75 328.53L325 328.54L325.25 328.55L325.5 328.55L325.75 328.56L326 328.56L326.25 328.57L326.5 328.57L326.75 328.58L327 328.58L327.25 328.58L327.5 328.58L327.75 328.59L328 328.59L328.25 328.59L328.5 328.59L328.75 328.59L329 328.59L329 328.6Z" fill="#ff0000"/>
<clipPath id="cd"><path d="M240.12 328.6L240.12 328.6L240.38 328.6L240.62 328.59L240.88 328.59L241.12 328.59L241.38 328.59L241.62 328.59L241.88 328.58L242.12 328.58L242.38 328.57L242.62 328.56L242.88 328.56L243.12 328.55L243.38 328.53L243.62 328.52L243.88 328.5L244.12 328.48L244.38 328.46L244.62 328.43L244.88 328.39L245.12 328.35L245.38 328.31L245.62 328.26L245.88 328.2L246.12 328.13L246.38 328.05L246.62 327.97L246.88 327.87L247.12 327.76L247.38 327.64L247.62 327.5L247.88 327.35L248.12 327.19L248.38 327.01L248.62 326.81L248.88 326.6L249.12 326.37L249.38 326.13L249.62 325.87L249.88 325.59L250.12 325.29L250.38 324.98L250.62 324.66L250.88 324.32L251.12 323.96L251.38 323.6L251.62 323.22L251.88 322.84L252.12 322.44L252.38 322.05L252.62 321.64L252.88 321.24L253.12 320.84L253.38 320.43L253.62 320.03L253.88 319.64L254.12 319.25L254.38 318.88L254.62 318.51L254.88 318.15L255.12 317.81L255.38 317.48L255.62 317.17L255.88 316.87L256.12 316.59L256.38 316.32L256.62 316.08L256.88 315.84L257.12 315.63L257.38 315.43L257.62 315.25L257.88 315.08L258.12 314.93L258.38 314.79L258.62 314.66L258.88 314.55L259.12 314.45L259.38 314.36L259.62 314.28L259.88 314.21L260.12 314.15L260.38 314.1L260.62 314.05L260.88 314.01L261.12 313.98L261.38 313.95L261.62 313.92L261.88 313.9L262.12 313.89L262.38 313.87L262.62 313.86L262.88 313.85L263.12 313.84L263.38 313.83L263.62 313.82L263.88 313.82L264.12 313.82L264.38 313.81L264.62 313.81L264.88 313.81L265.12 313.81L265.38 313.8L265.62 313.8L265.88 313.8L266.12 313.8L266.38 313.8L266.62 313.8L266.88 313.8L267.12 313.8L267.38 313.8L267.62 313.8L267.88 313.8L268.12 313.8L268.38 313.8L268.62 313.8L268.88 313.8L269.12 313.8L269.38 313.8L269.62 313.8L269.88 313.8L270.12 313.8L270.38 313.8L270.62 313.8L270.88 313.8L271.12 313.8L271.38 313.8L271.62 313.8L271.88 313.8L272.12 313.8L272.38 313.8L272.62 313.8L272.88 313.8L273.12 313.8L273.38 313.8L273.62 313.8L273.88 313.8L274.12 313.8L274.38 313.8L274.62 313.8L274.88 313.8L275.12 313.8L275.38 313.8L275.62 313.8L275.88 313.8L276.12 313.8L276.38 313.8L276.62 313.8L276.88 313.8L277.12 313.8L277.38 313.8L277.62 313.8L277.88 313.8L278.12 313.8L278.38 313.8L278.62 313.8L278.88 313.8L279.12 313.8L279.38 313.8L279.62 313.8L279.88 313.8L280.12 313.8L280.38 313.8L280.62 313.8L280.88 313.8L281.12 313.81L281.38 313.81L281.62 313.81L281.88 313.81L282.12 313.81L282.38 313.81L282.62 313.81L282.88 313.81L283.12 313.82L283.38 313.82L283.62 313.82L283.88 313.82L284.12 313.83L284.38 313.83L284.62 313.83L284.88 313.84L285.12 313.84L285.38 313.85L285.62 313.86L285.88 313.86L286.12 313.87L286.38 313.88L286.62 313.89L286.88 313.9L287.12 313.91L287.38 313.92L287.62 313.93L287.88 313.95L288.12 313.96L288.38 313.98L288.62 314L288.88 314.02L289.12 314.04L289.38 314.07L289.62 314.09L289.88 314.12L290.12 314.15L290.38 314.19L290.62 314.22L290.88 314.26L291.12 314.3L291.38 314.35L291.62 314.39L291.88 314.44L292.12 314.5L292.38 314.56L292.62 314.62L292.88 314.68L293.12 314.75L293.38 314.83L293.62 314.9L293.88 314.99L294.12 315.07L294.38 315.17L294.62 315.26L294.88 315.36L295.12 315.47L295.38 315.58L295.62 315.7L295.88 315.82L296.12 315.95L296.38 316.08L296.62 316.22L296.88 316.36L297.12 316.51L297.38 316.66L297.62 316.82L297.88 316.99L298.12 317.15L298.38 317.33L298.62 317.51L298.88 317.69L299.12 317.88L299.38 318.07L299.62 318.27L299.88 318.47L300.12 318.67L300.38 318.88L300.62 319.09L300.88 319.3L301.12 319.52L301.38 319.74L301.62 319.96L301.88 320.18L302.12 320.41L302.38 320.63L302.62 320.86L302.88 321.09L303.12 321.31L303.38 321.54L303.62 321.77L303.88 321.99L304.12 322.22L304.38 322.44L304.62 322.66L304.88 322.88L305.12 323.1L305.38 323.31L305.62 323.52L305.88 323.73L306.12 323.93L306.38 324.13L306.62 324.33L306.88 324.52L307.12 324.71L307.38 324.89L307.62 325.07L307.88 325.25L308.12 325.41L308.38 325.58L308.62 325.74L308.88 325.89L309.12 326.04L309.38 326.18L309.62 326.32L309.88 326.45L310.12 326.58L310.38 326.7L310.62 326.82L310.88 326.93L311.12 327.04L311.38 327.14L311.62 327.23L311.88 327.33L312.12 327.41L312.38 327.5L312.62 327.57L312.88 327.65L313.12 327.72L313.38 327.78L313.62 327.84L313.88 327.9L314.12 327.96L314.38 328.01L314.62 328.05L314.88 328.1L315.12 328.14L315.38 328.18L315.62 328.21L315.88 328.25L316.12 328.28L316.38 328.31L316.62 328.33L316.88 328.36L317.12 328.38L317.38 328.4L317.62 328.42L317.88 328.44L318.12 328.45L318.38 328.47L318.62 328.48L318.88 328.49L319.12 328.5L319.38 328.51L319.62 328.52L319.88 328.53L320.12 328.54L320.38 328.54L320.62 328.55L320.88 328.56L321.12 328.56L321.38 328.57L321.62 328.57L321.88 328.57L322.12 328.58L322.38 328.58L322.62 328.58L322.88 328.58L323.12 328.59L323.38 328.59L323.62 328.59L323.88 328.59L324.12 328.59L324.38 328.59L324.62 328.59L324.88 328.59L325.12 328.6L325.38 328.6L325.62 328.6L325.75 328.6Z"/></clipPath><g clip-path="url(#cd)" stroke="#0000ff" stroke-width="1.5"><line x1="219" y1="310.8" x2="239.8" y2="331.6"/><line x1="228.2" y1="310.8" x2="249" y2="331.6"/><line x1="237.4" y1="310.8" x2="258.2" y2="331.6"/><line x1="246.6" y1="310.8" x2="267.4" y2="331.6"/><line x1="255.8" y1="310.8" x2="276.6" y2="331.6"/><line x1="265" y1="310.8" x2="285.8" y2="331.6"/><line x1="274.2" y1="310.8" x2="295" y2="331.6"/><line x1="283.4" y1="310.8" x2="304.2" y2="331.6"/><line x1="292.6" y1="310.8" x2="313.4" y2="331.6"/><line x1="301.8" y1="310.8" x2="322.6" y2="331.6"/><line x1="311" y1="310.8" x2="331.8" y2="331.6"/><line x1="320.2" y1="310.8" x2="341" y2="331.6"/><line x1="329.4" y1="310.8" x2="350.2" y2="331.6"/></g>
<path d="M240.12 328.6L240.62 328.59L241.12 328.59L241.62 328.59L242.12 328.58L242.62 328.56L243.12 328.55L243.62 328.52L244.12 328.48L244.62 328.43L245.12 328.35L245.62 328.26L246.12 328.13L246.62 327.97L247.12 327.76L247.62 327.5L248.12 327.19L248.62 326.81L249.12 326.37L249.62 325.87L250.12 325.29L250.62 324.66L251.12 323.96L251.62 323.22L252.12 322.44L252.62 321.64L253.12 320.84L253.62 320.03L254.12 319.25L254.62 318.51L255.12 317.81L255.62 317.17L256.12 316.59L256.62 316.08L257.12 315.63L257.62 315.25L258.12 314.93L258.62 314.66L259.12 314.45L259.62 314.28L260.12 314.15L260.62 314.05L261.12 313.98L261.62 313.92L262.12 313.89L262.62 313.86L263.12 313.84L263.62 313.82L264.12 313.82L264.62 313.81L265.12 313.81L265.62 313.8L266.12 313.8L266.62 313.8L267.12 313.8L267.62 313.8L268.12 313.8L268.62 313.8L269.12 313.8L269.62 313.8L270.12 313.8L270.62 313.8L271.12 313.8L271.62 313.8L272.12 313.8L272.62 313.8L273.12 313.8L273.62 313.8L274.12 313.8L274.62 313.8L275.12 313.8L275.62 313.8L276.12 313.8L276.62 313.8L277.12 313.8L277.62 313.8L278.12 313.8L278.62 313.8L279.12 313.8L279.62 313.8L280.12 313.8L280.62 313.8L281.12 313.81L281.62 313.81L282.12 313.81L282.62 313.81L283.12 313.82L283.62 313.82L284.12 313.83L284.62 313.83L285.12 313.84L285.62 313.86L286.12 313.87L286.62 313.89L287.12 313.91L287.62 313.93L288.12 313.96L288.62 314L289.12 314.04L289.62 314.09L290.12 314.15L290.62 314.22L291.12 314.3L291.62 314.39L292.12 314.5L292.62 314.62L293.12 314.75L293.62 314.9L294.12 315.07L294.62 315.26L295.12 315.47L295.62 315.7L296.12 315.95L296.62 316.22L297.12 316.51L297.62 316.82L298.12 317.15L298.62 317.51L299.12 317.88L299.62 318.27L300.12 318.67L300.62 319.09L301.12 319.52L301.62 319.96L302.12 320.41L302.62 320.86L303.12 321.31L303.62 321.77L304.12 322.22L304.62 322.66L305.12 323.1L305.62 323.52L306.12 323.93L306.62 324.33L307.12 324.71L307.62 325.07L308.12 325.41L308.62 325.74L309.12 326.04L309.62 326.32L310.12 326.58L310.62 326.82L311.12 327.04L311.62 327.23L312.12 327.41L312.62 327.57L313.12 327.72L313.62 327.84L314.12 327.96L314.62 328.05L315.12 328.14L315.62 328.21L316.12 328.28L316.62 328.33L317.12 328.38L317.62 328.42L318.12 328.45L318.62 328.48L319.12 328.5L319.62 328.52L320.12 328.54L320.62 328.55L321.12 328.56L321.62 328.57L322.12 328.58L322.62 328.58L323.12 328.59L323.62 328.59L324.12 328.59L324.62 328.59L325.12 328.6L325.62 328.6" fill="none" stroke="#333" stroke-width="0.5"/>
<path d="M251.08 238.08L251.58 232.11L252.08 227.58L252.58 224.71L253.08 223.63L253.58 224.37L254.08 226.85L254.58 230.92L255.08 236.32L255.58 242.77L256.08 249.93L256.58 257.45L257.08 265.03L257.58 272.39L258.08 279.31L258.58 285.61L259.08 291.19L259.58 296L260.08 300.06L260.58 303.39L261.08 306.06L261.58 308.15L262.08 309.75L262.58 310.96L263.08 311.84L263.58 312.47L264.08 312.92L264.58 313.23L265.08 313.43L265.58 313.57L266.08 313.66L266.58 313.71L267.08 313.75L267.58 313.77L268.08 313.78L268.58 313.79L269.08 313.79L269.58 313.8L270.08 313.8L270.58 313.8L271.08 313.8L271.58 313.8L272.08 313.8L272.58 313.8L273.08 313.8L273.58 313.8L274.08 313.8L274.58 313.8L275.08 313.8L275.58 313.8L276.08 313.8L276.58 313.8L277.08 313.79L277.58 313.79L278.08 313.79L278.58 313.78L279.08 313.78L279.58 313.77L280.08 313.77L280.58 313.75L281.08 313.74L281.58 313.72L282.08 313.7L282.58 313.68L283.08 313.64L283.58 313.6L284.08 313.55L284.58 313.49L285.08 313.42L285.58 313.33L286.08 313.22L286.58 313.1L287.08 312.96L287.58 312.79L288.08 312.59L288.58 312.37L289.08 312.11L289.58 311.82L290.08 311.5L290.58 311.14L291.08 310.74L291.58 310.31L292.08 309.84L292.58 309.33L293.08 308.78L293.58 308.21L294.08 307.61L294.58 307L295.08 306.37L295.58 305.73L296.08 305.09L296.58 304.47L297.08 303.87L297.58 303.31L298.08 302.79L298.58 302.32L299.08 301.92L299.58 301.6L300.08 301.37L300.58 301.23L301.08 301.2L301.58 301.27L302.08 301.46L302.58 301.76L303.08 302.17L303.58 302.7L304.08 303.33L304.58 304.07L305.08 304.9L305.58 305.82L306.08 306.81L306.58 307.87L307.08 308.98L307.58 310.13L308.08 311.3L308.58 312.48L309.08 313.67L309.58 314.84L310.08 315.99L310.58 317.11L311.08 318.19L311.58 319.22L312.08 320.19L312.58 321.1L313.08 321.96L313.58 322.75L314.08 323.47L314.58 324.13L315.08 324.73L315.58 325.27L316.08 325.75L316.58 326.17L317.08 326.54L317.58 326.87L318.08 327.15L318.58 327.4L319.08 327.6L319.58 327.78L320.08 327.93L320.58 328.06L321.08 328.16L321.58 328.25L322.08 328.32L322.58 328.38L323.08 328.42L323.58 328.46L324.08 328.49L324.58 328.52L325.08 328.54L325.58 328.55L326.08 328.56L326.58 328.57L327.08 328.58L327.58 328.58L328.08 328.59L328.58 328.59" fill="none" stroke="#555" stroke-width="0.6"/>
<path d="M197.7 272L198.3 280L199.6 292L200.2 305L200.5 314L200.8 318.5L201.1 319.2L202.1 320.8L203.1 322.3L204.1 324.3L205.1 326.3L206.1 325.3L207.6 326.3L209.1 327.3L210.7 327.8L211.7 326.8L212.7 326.3L213.7 325.3L214.7 324.8L215.7 325.8L216.7 326.8L218.2 327.3L219.7 326.3L221.3 327.3L222.8 326.8L224.3 325.8L225.8 326.8L227.3 326.3L228.8 327.3L230.4 326.8L231.9 326.3L233.4 327.3L235.4 327.8L237.4 327.3L239.4 327.1L241 326.3L242 325.3L243 323.8L244 321.3L245 316.7L246.3 305L248 285L249.9 265L251.1 250L252.4 230L254.3 200.4L255.3 230L256.1 250L256.6 265L257.2 275L257.5 280L258.7 299.5L259.3 308.6L260.5 306.3L262 307.8L262.8 304.8L264.3 308.6L265.8 305.6L266.8 312.3L268 307.1L269.5 310.1L271 312.3L272.6 310.8L274.1 309.3L275.6 311.6L277.1 310.1L278.6 311.6L280.1 310.8L281.6 309.3L283.1 311.6L284.6 312.3L286.1 310.8L287.6 312.3L289.1 311.6L290.6 310.8L292.1 312.3L293.6 311.8L295.3 306L296.5 303.8L297.6 302.6L298.8 300.9L299.9 297.4L301 299.2L302.2 298L303.1 300.9L303.9 298.6L305 298L305.6 300.9L306.2 298.6L307.3 302.6L308.5 307.2L309.6 312.9L310.8 317.5L311.9 320.9L313.7 324.4L315.9 326.1L319.4 327.2L322.8 327.8L329.7 328.4" fill="none" stroke="#111" stroke-width="1.05" stroke-linejoin="round"/>
<path d="M197.6 184.1V328.6H361.55" stroke="#2a2a2a" stroke-width="0.9" fill="none"/>
<path d="M193 328.6H197.6M195.4 322.82H197.6M195.4 317.04H197.6M195.4 311.26H197.6M195.4 305.48H197.6M193 299.7H197.6M195.4 293.92H197.6M195.4 288.14H197.6M195.4 282.36H197.6M195.4 276.58H197.6M193 270.8H197.6M195.4 265.02H197.6M195.4 259.24H197.6M195.4 253.46H197.6M195.4 247.68H197.6M193 241.9H197.6M195.4 236.12H197.6M195.4 230.34H197.6M195.4 224.56H197.6M195.4 218.78H197.6M193 213H197.6M195.4 207.22H197.6M195.4 201.44H197.6M195.4 195.66H197.6M195.4 189.88H197.6M193 184.1H197.6M197.6 328.6V332.9M204.16 328.6V330.9M210.72 328.6V330.9M217.27 328.6V330.9M223.83 328.6V330.9M230.39 328.6V332.9M236.95 328.6V330.9M243.51 328.6V330.9M250.06 328.6V330.9M256.62 328.6V330.9M263.18 328.6V332.9M269.74 328.6V330.9M276.3 328.6V330.9M282.85 328.6V330.9M289.41 328.6V330.9M295.97 328.6V332.9M302.53 328.6V330.9M309.09 328.6V330.9M315.64 328.6V330.9M322.2 328.6V330.9M328.76 328.6V332.9M335.32 328.6V330.9M341.88 328.6V330.9M348.43 328.6V330.9M354.99 328.6V330.9M361.55 328.6V332.9" stroke="#2a2a2a" stroke-width="0.8" fill="none"/>
<g font-family="Liberation Sans, sans-serif" font-size="5" fill="#333" stroke="#333" stroke-width="0.12"><text x="197.6" y="337.2" text-anchor="middle" font-size="4.5">0</text><text x="230.39" y="337.2" text-anchor="middle" font-size="4.5">30</text><text x="263.18" y="337.2" text-anchor="middle" font-size="4.5">60</text><text x="295.97" y="337.2" text-anchor="middle" font-size="4.5">90</text><text x="328.76" y="337.2" text-anchor="middle" font-size="4.5">120</text><text x="361.55" y="337.2" text-anchor="middle" font-size="4.5">150</text><text transform="translate(192.8 328.6) rotate(-90)" text-anchor="middle" font-size="4.5">0</text><text transform="translate(192.8 299.7) rotate(-90)" text-anchor="middle" font-size="4.5">50</text><text transform="translate(192.8 270.8) rotate(-90)" text-anchor="middle" font-size="4.5">100</text><text transform="translate(192.8 241.9) rotate(-90)" text-anchor="middle" font-size="4.5">150</text><text transform="translate(192.8 213) rotate(-90)" text-anchor="middle" font-size="4.5">200</text><text transform="translate(188 256.35) rotate(-90)" text-anchor="middle">Number</text><text x="279.57" y="341.7" text-anchor="middle" font-size="5.25">Channels (PE-A)</text></g>
<path d="M378.6 328.4L378.6 250.99L378.85 249.47L379.1 248.1L379.35 246.9L379.6 245.87L379.85 245.03L380.1 244.38L380.35 243.92L380.6 243.66L380.85 243.6L381.1 243.74L381.35 244.08L381.6 244.62L381.85 245.34L382.1 246.26L382.35 247.36L382.6 248.62L382.85 250.06L383.1 251.65L383.35 253.38L383.6 255.25L383.85 257.24L384.1 259.34L384.35 261.53L384.6 263.81L384.85 266.16L385.1 268.56L385.35 271L385.6 273.48L385.85 275.97L386.1 278.46L386.35 280.95L386.6 283.42L386.85 285.87L387.1 288.27L387.35 290.63L387.6 292.93L387.85 295.17L388.1 297.35L388.35 299.45L388.6 301.47L388.85 303.41L389.1 305.26L389.35 307.03L389.6 308.7L389.85 310.29L390.1 311.79L390.35 313.21L390.6 314.53L390.85 315.77L391.1 316.92L391.35 318L391.6 318.99L391.85 319.91L392.1 320.76L392.35 321.54L392.6 322.26L392.85 322.91L393.1 323.51L393.35 324.05L393.6 324.54L393.85 324.98L394.1 325.38L394.35 325.74L394.6 326.06L394.85 326.35L395.1 326.6L395.35 326.83L395.6 327.04L395.85 327.21L396.1 327.37L396.35 327.51L396.6 327.63L396.85 327.74L397.1 327.83L397.35 327.91L397.6 327.99L397.85 328.05L398.1 328.1L398.35 328.14L398.6 328.18L398.85 328.22L399.1 328.25L399.35 328.27L399.6 328.29L399.85 328.31L400 328.4Z" fill="#00ffff"/>
<path d="M413.1 328.4L413.1 328.38L413.35 328.38L413.6 328.37L413.85 328.36L414.1 328.35L414.35 328.34L414.6 328.33L414.85 328.32L415.1 328.3L415.35 328.28L415.6 328.25L415.85 328.22L416.1 328.19L416.35 328.15L416.6 328.1L416.85 328.04L417.1 327.97L417.35 327.89L417.6 327.8L417.85 327.69L418.1 327.57L418.35 327.43L418.6 327.27L418.85 327.09L419.1 326.88L419.35 326.64L419.6 326.37L419.85 326.07L420.1 325.73L420.35 325.35L420.6 324.92L420.85 324.45L421.1 323.93L421.35 323.35L421.6 322.72L421.85 322.02L422.1 321.26L422.35 320.43L422.6 319.54L422.85 318.57L423.1 317.53L423.35 316.41L423.6 315.22L423.85 313.95L424.1 312.61L424.35 311.19L424.6 309.7L424.85 308.14L425.1 306.52L425.35 304.83L425.6 303.1L425.85 301.31L426.1 299.48L426.35 297.62L426.6 295.74L426.85 293.84L427.1 291.95L427.35 290.06L427.6 288.19L427.85 286.36L428.1 284.57L428.35 282.84L428.6 281.18L428.85 279.61L429.1 278.13L429.35 276.76L429.6 275.51L429.85 274.39L430.1 273.41L430.35 272.57L430.6 271.89L430.85 271.37L431.1 271.02L431.35 270.83L431.6 270.81L431.85 270.97L432.1 271.29L432.35 271.78L432.6 272.42L432.85 273.23L433.1 274.18L433.35 275.27L433.6 276.5L433.85 277.85L434.1 279.3L434.35 280.86L434.6 282.5L434.85 284.22L435.1 285.99L435.35 287.82L435.6 289.68L435.85 291.57L436.1 293.46L436.35 295.36L436.6 297.25L436.85 299.11L437.1 300.95L437.35 302.74L437.6 304.49L437.85 306.19L438.1 307.82L438.35 309.39L438.6 310.9L438.85 312.33L439.1 313.69L439.35 314.97L439.6 316.18L439.85 317.31L440.1 318.37L440.35 319.35L440.6 320.26L440.85 321.1L441.1 321.87L441.35 322.58L441.6 323.23L441.85 323.82L442.1 324.35L442.35 324.83L442.6 325.27L442.85 325.66L443.1 326L443.35 326.31L443.6 326.59L443.85 326.83L444.1 327.05L444.35 327.24L444.6 327.4L444.85 327.55L445.1 327.67L445.35 327.78L445.6 327.87L445.85 327.96L446.1 328.03L446.35 328.09L446.6 328.14L446.85 328.18L447.1 328.22L447.35 328.25L447.6 328.27L447.85 328.3L448.1 328.31L448.35 328.33L448.6 328.34L448.85 328.35L449.1 328.36L449.35 328.37L449.6 328.37L449.85 328.38L449.9 328.4Z" fill="#ff0000"/>
<path d="M441.3 328.4L441.3 328.39L441.55 328.39L441.8 328.39L442.05 328.39L442.3 328.39L442.55 328.39L442.8 328.39L443.05 328.39L443.3 328.39L443.55 328.39L443.8 328.38L444.05 328.38L444.3 328.38L444.55 328.38L444.8 328.38L445.05 328.38L445.3 328.37L445.55 328.37L445.8 328.37L446.05 328.37L446.3 328.36L446.55 328.36L446.8 328.36L447.05 328.35L447.3 328.35L447.55 328.34L447.8 328.34L448.05 328.33L448.3 328.33L448.55 328.32L448.8 328.31L449.05 328.31L449.3 328.3L449.55 328.29L449.8 328.28L450.05 328.27L450.3 328.26L450.55 328.25L450.8 328.24L451.05 328.22L451.3 328.21L451.55 328.2L451.8 328.18L452.05 328.16L452.3 328.14L452.55 328.13L452.8 328.11L453.05 328.08L453.3 328.06L453.55 328.04L453.8 328.01L454.05 327.98L454.3 327.95L454.55 327.92L454.8 327.89L455.05 327.85L455.3 327.82L455.55 327.78L455.8 327.74L456.05 327.69L456.3 327.65L456.55 327.6L456.8 327.55L457.05 327.5L457.3 327.44L457.55 327.38L457.8 327.32L458.05 327.25L458.3 327.19L458.55 327.11L458.8 327.04L459.05 326.96L459.3 326.88L459.55 326.79L459.8 326.7L460.05 326.61L460.3 326.51L460.55 326.41L460.8 326.31L461.05 326.2L461.3 326.09L461.55 325.97L461.8 325.85L462.05 325.72L462.3 325.59L462.55 325.45L462.8 325.31L463.05 325.17L463.3 325.02L463.55 324.86L463.8 324.7L464.05 324.54L464.3 324.37L464.55 324.2L464.8 324.02L465.05 323.83L465.3 323.65L465.55 323.45L465.8 323.26L466.05 323.05L466.3 322.85L466.55 322.64L466.8 322.42L467.05 322.2L467.3 321.98L467.55 321.76L467.8 321.53L468.05 321.29L468.3 321.05L468.55 320.81L468.8 320.57L469.05 320.33L469.3 320.08L469.55 319.83L469.8 319.57L470.05 319.32L470.3 319.06L470.55 318.8L470.8 318.55L471.05 318.29L471.3 318.03L471.55 317.77L471.8 317.51L472.05 317.25L472.3 316.99L472.55 316.74L472.8 316.48L473.05 316.23L473.3 315.98L473.55 315.74L473.8 315.49L474.05 315.25L474.3 315.02L474.55 314.78L474.8 314.56L475.05 314.33L475.3 314.12L475.55 313.91L475.8 313.7L476.05 313.5L476.3 313.31L476.55 313.12L476.8 312.95L477.05 312.78L477.3 312.61L477.55 312.46L477.8 312.32L478.05 312.18L478.3 312.05L478.55 311.93L478.8 311.83L479.05 311.73L479.3 311.64L479.55 311.56L479.8 311.49L480.05 311.43L480.3 311.39L480.55 311.35L480.8 311.32L481.05 311.31L481.3 311.3L481.55 311.31L481.8 311.32L482.05 311.35L482.3 311.39L482.55 311.43L482.8 311.49L483.05 311.56L483.3 311.64L483.55 311.73L483.8 311.83L484.05 311.93L484.3 312.05L484.55 312.18L484.8 312.32L485.05 312.46L485.3 312.61L485.55 312.78L485.8 312.95L486.05 313.12L486.3 313.31L486.55 313.5L486.8 313.7L487.05 313.91L487.3 314.12L487.55 314.33L487.8 314.56L488.05 314.78L488.3 315.02L488.55 315.25L488.8 315.49L489.05 315.74L489.3 315.98L489.55 316.23L489.8 316.48L490.05 316.74L490.3 316.99L490.55 317.25L490.8 317.51L491.05 317.77L491.3 318.03L491.55 318.29L491.8 318.55L492.05 318.8L492.3 319.06L492.55 319.32L492.8 319.57L493.05 319.83L493.3 320.08L493.55 320.33L493.8 320.57L494.05 320.81L494.3 321.05L494.55 321.29L494.8 321.53L495.05 321.76L495.3 321.98L495.55 322.2L495.8 322.42L496.05 322.64L496.3 322.85L496.55 323.05L496.8 323.26L497.05 323.45L497.3 323.65L497.55 323.83L497.8 324.02L498.05 324.2L498.3 324.37L498.55 324.54L498.8 324.7L499.05 324.86L499.3 325.02L499.55 325.17L499.8 325.31L500.05 325.45L500.3 325.59L500.55 325.72L500.8 325.85L501.05 325.97L501.3 326.09L501.55 326.2L501.8 326.31L502.05 326.41L502.3 326.51L502.55 326.61L502.8 326.7L503.05 326.79L503.3 326.88L503.55 326.96L503.8 327.04L504.05 327.11L504.3 327.19L504.55 327.25L504.8 327.32L505.05 327.38L505.3 327.44L505.55 327.5L505.8 327.55L506.05 327.6L506.3 327.65L506.55 327.69L506.8 327.74L507.05 327.78L507.3 327.82L507.55 327.85L507.8 327.89L508.05 327.92L508.3 327.95L508.55 327.98L508.8 328.01L509.05 328.04L509.3 328.06L509.55 328.08L509.8 328.11L510.05 328.13L510.3 328.14L510.55 328.16L510.8 328.18L511.05 328.2L511.3 328.21L511.55 328.22L511.8 328.24L512.05 328.25L512.3 328.26L512.55 328.27L512.8 328.28L513.05 328.29L513.3 328.3L513.55 328.31L513.8 328.31L514.05 328.32L514.3 328.33L514.55 328.33L514.8 328.34L515.05 328.34L515.3 328.35L515.55 328.35L515.8 328.36L516.05 328.36L516.3 328.36L516.55 328.37L516.8 328.37L517.05 328.37L517.3 328.37L517.55 328.38L517.8 328.38L518.05 328.38L518.3 328.38L518.55 328.38L518.8 328.38L519.05 328.39L519.3 328.39L519.55 328.39L519.8 328.39L520.05 328.39L520.3 328.39L520.55 328.39L520.8 328.39L521.05 328.39L521.3 328.39L521.3 328.4Z" fill="#ff0000"/>
<clipPath id="ce"><path d="M415.4 328.4L415.4 328.4L415.65 328.4L415.9 328.39L416.15 328.39L416.4 328.39L416.65 328.39L416.9 328.39L417.15 328.39L417.4 328.38L417.65 328.38L417.9 328.38L418.15 328.37L418.4 328.37L418.65 328.36L418.9 328.35L419.15 328.34L419.4 328.33L419.65 328.32L419.9 328.31L420.15 328.29L420.4 328.28L420.65 328.26L420.9 328.23L421.15 328.21L421.4 328.18L421.65 328.15L421.9 328.11L422.15 328.07L422.4 328.03L422.65 327.98L422.9 327.92L423.15 327.86L423.4 327.79L423.65 327.71L423.9 327.63L424.15 327.54L424.4 327.44L424.65 327.34L424.9 327.22L425.15 327.09L425.4 326.96L425.65 326.81L425.9 326.66L426.15 326.49L426.4 326.31L426.65 326.12L426.9 325.92L427.15 325.71L427.4 325.49L427.65 325.26L427.9 325.02L428.15 324.76L428.4 324.5L428.65 324.22L428.9 323.94L429.15 323.65L429.4 323.35L429.65 323.04L429.9 322.72L430.15 322.4L430.4 322.07L430.65 321.74L430.9 321.41L431.15 321.07L431.4 320.74L431.65 320.4L431.9 320.06L432.15 319.72L432.4 319.39L432.65 319.06L432.9 318.73L433.15 318.41L433.4 318.1L433.65 317.79L433.9 317.49L434.15 317.2L434.4 316.92L434.65 316.65L434.9 316.39L435.15 316.13L435.4 315.89L435.65 315.66L435.9 315.44L436.15 315.23L436.4 315.04L436.65 314.85L436.9 314.68L437.15 314.51L437.4 314.36L437.65 314.21L437.9 314.08L438.15 313.96L438.4 313.84L438.65 313.74L438.9 313.64L439.15 313.55L439.4 313.47L439.65 313.4L439.9 313.33L440.15 313.27L440.4 313.21L440.65 313.16L440.9 313.12L441.15 313.08L441.4 313.05L441.65 313.01L441.9 312.99L442.15 312.96L442.4 312.94L442.65 312.92L442.9 312.9L443.15 312.89L443.4 312.88L443.65 312.87L443.9 312.86L444.15 312.85L444.4 312.84L444.65 312.84L444.9 312.83L445.15 312.83L445.4 312.82L445.65 312.82L445.9 312.82L446.15 312.81L446.4 312.81L446.65 312.81L446.9 312.81L447.15 312.81L447.4 312.81L447.65 312.81L447.9 312.81L448.15 312.81L448.4 312.81L448.65 312.81L448.9 312.81L449.15 312.81L449.4 312.81L449.65 312.81L449.9 312.81L450.15 312.81L450.4 312.82L450.65 312.82L450.9 312.82L451.15 312.82L451.4 312.82L451.65 312.82L451.9 312.83L452.15 312.83L452.4 312.83L452.65 312.83L452.9 312.84L453.15 312.84L453.4 312.84L453.65 312.84L453.9 312.85L454.15 312.85L454.4 312.86L454.65 312.86L454.9 312.86L455.15 312.87L455.4 312.87L455.65 312.88L455.9 312.89L456.15 312.89L456.4 312.9L456.65 312.91L456.9 312.91L457.15 312.92L457.4 312.93L457.65 312.94L457.9 312.95L458.15 312.96L458.4 312.97L458.65 312.98L458.9 313L459.15 313.01L459.4 313.02L459.65 313.04L459.9 313.05L460.15 313.07L460.4 313.09L460.65 313.1L460.9 313.12L461.15 313.14L461.4 313.16L461.65 313.19L461.9 313.21L462.15 313.23L462.4 313.26L462.65 313.29L462.9 313.31L463.15 313.34L463.4 313.37L463.65 313.4L463.9 313.44L464.15 313.47L464.4 313.51L464.65 313.55L464.9 313.59L465.15 313.63L465.4 313.67L465.65 313.72L465.9 313.76L466.15 313.81L466.4 313.86L466.65 313.91L466.9 313.97L467.15 314.03L467.4 314.08L467.65 314.14L467.9 314.21L468.15 314.27L468.4 314.34L468.65 314.41L468.9 314.48L469.15 314.55L469.4 314.63L469.65 314.7L469.9 314.78L470.15 314.87L470.4 314.95L470.65 315.04L470.9 315.13L471.15 315.22L471.4 315.31L471.65 315.41L471.9 315.51L472.15 315.61L472.4 315.71L472.65 315.82L472.9 315.93L473.15 316.04L473.4 316.15L473.65 316.27L473.9 316.38L474.15 316.5L474.4 316.62L474.65 316.75L474.9 316.87L475.15 317L475.4 317.13L475.65 317.26L475.9 317.4L476.15 317.53L476.4 317.67L476.65 317.81L476.9 317.95L477.15 318.09L477.4 318.23L477.65 318.38L477.9 318.52L478.15 318.67L478.4 318.82L478.65 318.97L478.9 319.12L479.15 319.27L479.4 319.42L479.65 319.58L479.9 319.73L480.15 319.89L480.4 320.04L480.65 320.2L480.9 320.35L481.15 320.51L481.4 320.66L481.65 320.82L481.9 320.97L482.15 321.13L482.4 321.28L482.65 321.44L482.9 321.59L483.15 321.74L483.4 321.9L483.65 322.05L483.9 322.2L484.15 322.35L484.4 322.5L484.65 322.65L484.9 322.79L485.15 322.94L485.4 323.08L485.65 323.22L485.9 323.36L486.15 323.5L486.4 323.64L486.65 323.78L486.9 323.91L487.15 324.04L487.4 324.17L487.65 324.3L487.9 324.43L488.15 324.55L488.4 324.67L488.65 324.79L488.9 324.91L489.15 325.03L489.4 325.14L489.65 325.25L489.9 325.36L490.15 325.47L490.4 325.57L490.65 325.67L490.9 325.77L491.15 325.87L491.4 325.96L491.65 326.05L491.9 326.14L492.15 326.23L492.4 326.32L492.65 326.4L492.9 326.48L493.15 326.56L493.4 326.64L493.65 326.71L493.9 326.78L494.15 326.85L494.4 326.92L494.65 326.98L494.9 327.04L495.15 327.1L495.4 327.16L495.65 327.22L495.9 327.27L496.15 327.33L496.4 327.38L496.65 327.43L496.9 327.47L497.15 327.52L497.4 327.56L497.65 327.6L497.9 327.64L498.15 327.68L498.4 327.72L498.65 327.75L498.9 327.79L499.15 327.82L499.4 327.85L499.65 327.88L499.9 327.91L500.15 327.94L500.4 327.96L500.65 327.99L500.9 328.01L501.15 328.03L501.4 328.05L501.65 328.07L501.9 328.09L502.15 328.11L502.4 328.13L502.65 328.14L502.9 328.16L503.15 328.17L503.4 328.19L503.65 328.2L503.9 328.21L504.15 328.23L504.4 328.24L504.65 328.25L504.9 328.26L505.15 328.27L505.4 328.28L505.65 328.28L505.9 328.29L506.15 328.3L506.4 328.31L506.65 328.31L506.9 328.32L507.15 328.32L507.4 328.33L507.65 328.33L507.9 328.34L508.15 328.34L508.4 328.35L508.65 328.35L508.9 328.35L509.15 328.36L509.4 328.36L509.65 328.36L509.9 328.37L510.15 328.37L510.4 328.37L510.65 328.37L510.9 328.38L511.15 328.38L511.4 328.38L511.65 328.38L511.9 328.38L512.15 328.38L512.4 328.39L512.65 328.39L512.9 328.39L513.15 328.39L513.4 328.39L513.65 328.39L513.9 328.39L514.15 328.39L514.4 328.39L514.65 328.39L514.9 328.39L515.15 328.39L515.4 328.39L515.65 328.4L515.9 328.4L516.15 328.4L516.3 328.4Z"/></clipPath><g clip-path="url(#ce)" stroke="#0000ff" stroke-width="1.5"><line x1="388.4" y1="309.8" x2="410" y2="331.4"/><line x1="397.6" y1="309.8" x2="419.2" y2="331.4"/><line x1="406.8" y1="309.8" x2="428.4" y2="331.4"/><line x1="416" y1="309.8" x2="437.6" y2="331.4"/><line x1="425.2" y1="309.8" x2="446.8" y2="331.4"/><line x1="434.4" y1="309.8" x2="456" y2="331.4"/><line x1="443.6" y1="309.8" x2="465.2" y2="331.4"/><line x1="452.8" y1="309.8" x2="474.4" y2="331.4"/><line x1="462" y1="309.8" x2="483.6" y2="331.4"/><line x1="471.2" y1="309.8" x2="492.8" y2="331.4"/><line x1="480.4" y1="309.8" x2="502" y2="331.4"/><line x1="489.6" y1="309.8" x2="511.2" y2="331.4"/><line x1="498.8" y1="309.8" x2="520.4" y2="331.4"/><line x1="508" y1="309.8" x2="529.6" y2="331.4"/><line x1="517.2" y1="309.8" x2="538.8" y2="331.4"/></g>
<path d="M415.4 328.4L415.9 328.39L416.4 328.39L416.9 328.39L417.4 328.38L417.9 328.38L418.4 328.37L418.9 328.35L419.4 328.33L419.9 328.31L420.4 328.28L420.9 328.23L421.4 328.18L421.9 328.11L422.4 328.03L422.9 327.92L423.4 327.79L423.9 327.63L424.4 327.44L424.9 327.22L425.4 326.96L425.9 326.66L426.4 326.31L426.9 325.92L427.4 325.49L427.9 325.02L428.4 324.5L428.9 323.94L429.4 323.35L429.9 322.72L430.4 322.07L430.9 321.41L431.4 320.74L431.9 320.06L432.4 319.39L432.9 318.73L433.4 318.1L433.9 317.49L434.4 316.92L434.9 316.39L435.4 315.89L435.9 315.44L436.4 315.04L436.9 314.68L437.4 314.36L437.9 314.08L438.4 313.84L438.9 313.64L439.4 313.47L439.9 313.33L440.4 313.21L440.9 313.12L441.4 313.05L441.9 312.99L442.4 312.94L442.9 312.9L443.4 312.88L443.9 312.86L444.4 312.84L444.9 312.83L445.4 312.82L445.9 312.82L446.4 312.81L446.9 312.81L447.4 312.81L447.9 312.81L448.4 312.81L448.9 312.81L449.4 312.81L449.9 312.81L450.4 312.82L450.9 312.82L451.4 312.82L451.9 312.83L452.4 312.83L452.9 312.84L453.4 312.84L453.9 312.85L454.4 312.86L454.9 312.86L455.4 312.87L455.9 312.89L456.4 312.9L456.9 312.91L457.4 312.93L457.9 312.95L458.4 312.97L458.9 313L459.4 313.02L459.9 313.05L460.4 313.09L460.9 313.12L461.4 313.16L461.9 313.21L462.4 313.26L462.9 313.31L463.4 313.37L463.9 313.44L464.4 313.51L464.9 313.59L465.4 313.67L465.9 313.76L466.4 313.86L466.9 313.97L467.4 314.08L467.9 314.21L468.4 314.34L468.9 314.48L469.4 314.63L469.9 314.78L470.4 314.95L470.9 315.13L471.4 315.31L471.9 315.51L472.4 315.71L472.9 315.93L473.4 316.15L473.9 316.38L474.4 316.62L474.9 316.87L475.4 317.13L475.9 317.4L476.4 317.67L476.9 317.95L477.4 318.23L477.9 318.52L478.4 318.82L478.9 319.12L479.4 319.42L479.9 319.73L480.4 320.04L480.9 320.35L481.4 320.66L481.9 320.97L482.4 321.28L482.9 321.59L483.4 321.9L483.9 322.2L484.4 322.5L484.9 322.79L485.4 323.08L485.9 323.36L486.4 323.64L486.9 323.91L487.4 324.17L487.9 324.43L488.4 324.67L488.9 324.91L489.4 325.14L489.9 325.36L490.4 325.57L490.9 325.77L491.4 325.96L491.9 326.14L492.4 326.32L492.9 326.48L493.4 326.64L493.9 326.78L494.4 326.92L494.9 327.04L495.4 327.16L495.9 327.27L496.4 327.38L496.9 327.47L497.4 327.56L497.9 327.64L498.4 327.72L498.9 327.79L499.4 327.85L499.9 327.91L500.4 327.96L500.9 328.01L501.4 328.05L501.9 328.09L502.4 328.13L502.9 328.16L503.4 328.19L503.9 328.21L504.4 328.24L504.9 328.26L505.4 328.28L505.9 328.29L506.4 328.31L506.9 328.32L507.4 328.33L507.9 328.34L508.4 328.35L508.9 328.35L509.4 328.36L509.9 328.37L510.4 328.37L510.9 328.38L511.4 328.38L511.9 328.38L512.4 328.39L512.9 328.39L513.4 328.39L513.9 328.39L514.4 328.39L514.9 328.39L515.4 328.39L515.9 328.4" fill="none" stroke="#333" stroke-width="0.5"/>
<path d="M429.2 272.75L429.7 269.62L430.2 266.99L430.7 264.94L431.2 263.53L431.7 262.78L432.2 262.72L432.7 263.32L433.2 264.55L433.7 266.36L434.2 268.66L434.7 271.37L435.2 274.4L435.7 277.65L436.2 281.02L436.7 284.41L437.2 287.75L437.7 290.96L438.2 293.99L438.7 296.79L439.2 299.34L439.7 301.62L440.2 303.62L440.7 305.36L441.2 306.83L441.7 308.07L442.2 309.1L442.7 309.93L443.2 310.61L443.7 311.14L444.2 311.55L444.7 311.87L445.2 312.12L445.7 312.3L446.2 312.43L446.7 312.52L447.2 312.59L447.7 312.63L448.2 312.66L448.7 312.67L449.2 312.68L449.7 312.67L450.2 312.66L450.7 312.65L451.2 312.63L451.7 312.61L452.2 312.58L452.7 312.55L453.2 312.51L453.7 312.47L454.2 312.42L454.7 312.36L455.2 312.3L455.7 312.24L456.2 312.16L456.7 312.08L457.2 311.99L457.7 311.89L458.2 311.78L458.7 311.66L459.2 311.52L459.7 311.38L460.2 311.23L460.7 311.06L461.2 310.88L461.7 310.68L462.2 310.48L462.7 310.26L463.2 310.02L463.7 309.78L464.2 309.52L464.7 309.24L465.2 308.96L465.7 308.66L466.2 308.35L466.7 308.04L467.2 307.71L467.7 307.37L468.2 307.03L468.7 306.69L469.2 306.34L469.7 305.99L470.2 305.65L470.7 305.31L471.2 304.97L471.7 304.64L472.2 304.33L472.7 304.03L473.2 303.74L473.7 303.48L474.2 303.24L474.7 303.02L475.2 302.83L475.7 302.67L476.2 302.54L476.7 302.45L477.2 302.4L477.7 302.38L478.2 302.4L478.7 302.47L479.2 302.58L479.7 302.73L480.2 302.92L480.7 303.16L481.2 303.44L481.7 303.76L482.2 304.13L482.7 304.54L483.2 304.98L483.7 305.46L484.2 305.98L484.7 306.54L485.2 307.12L485.7 307.73L486.2 308.37L486.7 309.02L487.2 309.7L487.7 310.39L488.2 311.1L488.7 311.81L489.2 312.53L489.7 313.26L490.2 313.98L490.7 314.7L491.2 315.41L491.7 316.12L492.2 316.81L492.7 317.49L493.2 318.15L493.7 318.8L494.2 319.42L494.7 320.03L495.2 320.61L495.7 321.17L496.2 321.7L496.7 322.21L497.2 322.7L497.7 323.16L498.2 323.59L498.7 324L499.2 324.38L499.7 324.74L500.2 325.08L500.7 325.39L501.2 325.68L501.7 325.94L502.2 326.19L502.7 326.42L503.2 326.62L503.7 326.81L504.2 326.99L504.7 327.14L505.2 327.29L505.7 327.41L506.2 327.53L506.7 327.63L507.2 327.73L507.7 327.81L508.2 327.89L508.7 327.95L509.2 328.01L509.7 328.06L510.2 328.11L510.7 328.15L511.2 328.18L511.7 328.21L512.2 328.24L512.7 328.26L513.2 328.28L513.7 328.3L514.2 328.32L514.7 328.33L515.2 328.34L515.7 328.35L516.2 328.36L516.7 328.36L517.2 328.37L517.7 328.38L518.2 328.38L518.7 328.38L519.2 328.39L519.7 328.39L520.2 328.39L520.7 328.39L521.2 328.39" fill="none" stroke="#555" stroke-width="0.6"/>
<path d="M379.5 245L380.5 225.4L381.5 245L382.2 235L383 207.9L384 245L384.8 258L386.6 280L388.8 297L389.5 299.2L390.2 301.3L390.9 304.8L391.6 305.5L392.3 311.2L393 321.2L394.2 314.1L395.2 318.3L395.9 315.5L397 321.2L398 317.6L399.4 320.5L400.4 324L401.5 321.9L402.7 323.3L403.7 321.9L405.1 324L406.1 321.2L407.2 322.6L408.4 319L409.4 317.6L410 318.7L412.5 321.1L414.9 323.6L417.4 319.9L419.3 313.8L421.1 322.4L422.8 311.3L424.3 306.4L425.5 301.5L427.3 289.2L428.9 276.9L430.5 264.6L431.8 254.8L433.4 249.5L434.6 252.3L435.3 257.2L436.6 264.6L437.5 276.9L438.3 289.2L439.5 299L440.7 306.4L442 311.3L443.2 303.9L444.4 301.5L445.7 306.4L447.4 302.7L449.3 307.6L450.8 310L452.6 308.2L453.8 304.7L455.2 310.9L456.6 307.3L457.9 305.6L459.7 308.2L460 308.1L462 307.6L464 305.1L465.6 308.1L466.6 306.1L468.1 309.6L469.6 307.1L470.6 303.6L471.6 301.1L472.6 300.1L473.6 302.6L474.6 299L475.7 304.1L476.7 302.1L477.7 298L478.7 299.5L479.7 296.5L480.7 296L481.4 298L482.2 308.1L483.2 303.1L484.2 301.1L485.3 302.6L486.5 301.1L487.5 302.1L488.3 305.1L489.3 309.1L490.3 312.2L491.3 312.7L492.3 313.2L493.3 316.7L494.3 318.7L495.4 319.2L496.4 321.3L497.4 322.8L498.9 324.3L500.4 325.3L502.4 326.3L505 327.3L507.5 327.8L510 328.2" fill="none" stroke="#111" stroke-width="1.05" stroke-linejoin="round"/>
<path d="M378.6 183.3V328.4H543.6" stroke="#2a2a2a" stroke-width="0.9" fill="none"/>
<path d="M374 328.4H378.6M376.4 322.6H378.6M376.4 316.8H378.6M376.4 311H378.6M376.4 305.2H378.6M374 299.4H378.6M376.4 293.6H378.6M376.4 287.8H378.6M376.4 282H378.6M376.4 276.2H378.6M374 270.4H378.6M376.4 264.6H378.6M376.4 258.8H378.6M376.4 253H378.6M376.4 247.2H378.6M374 241.4H378.6M376.4 235.6H378.6M376.4 229.8H378.6M376.4 224H378.6M376.4 218.2H378.6M374 212.4H378.6M376.4 206.6H378.6M376.4 200.8H378.6M376.4 195H378.6M376.4 189.2H378.6M374 183.4H378.6M378.6 328.4V332.7M385.2 328.4V330.7M391.8 328.4V330.7M398.4 328.4V330.7M405 328.4V330.7M411.6 328.4V332.7M418.2 328.4V330.7M424.8 328.4V330.7M431.4 328.4V330.7M438 328.4V330.7M444.6 328.4V332.7M451.2 328.4V330.7M457.8 328.4V330.7M464.4 328.4V330.7M471 328.4V330.7M477.6 328.4V332.7M484.2 328.4V330.7M490.8 328.4V330.7M497.4 328.4V330.7M504 328.4V330.7M510.6 328.4V332.7M517.2 328.4V330.7M523.8 328.4V330.7M530.4 328.4V330.7M537 328.4V330.7M543.6 328.4V332.7" stroke="#2a2a2a" stroke-width="0.8" fill="none"/>
<g font-family="Liberation Sans, sans-serif" font-size="5" fill="#333" stroke="#333" stroke-width="0.12"><text x="378.6" y="337" text-anchor="middle" font-size="4.5">0</text><text x="411.6" y="337" text-anchor="middle" font-size="4.5">30</text><text x="444.6" y="337" text-anchor="middle" font-size="4.5">60</text><text x="477.6" y="337" text-anchor="middle" font-size="4.5">90</text><text x="510.6" y="337" text-anchor="middle" font-size="4.5">120</text><text x="543.6" y="337" text-anchor="middle" font-size="4.5">150</text><text transform="translate(373.8 328.4) rotate(-90)" text-anchor="middle" font-size="4.5">0</text><text transform="translate(373.8 299.4) rotate(-90)" text-anchor="middle" font-size="4.5">20</text><text transform="translate(373.8 270.4) rotate(-90)" text-anchor="middle" font-size="4.5">40</text><text transform="translate(373.8 241.4) rotate(-90)" text-anchor="middle" font-size="4.5">60</text><text transform="translate(373.8 212.4) rotate(-90)" text-anchor="middle" font-size="4.5">80</text><text transform="translate(369 255.85) rotate(-90)" text-anchor="middle">Number</text><text x="461.1" y="341.5" text-anchor="middle" font-size="5.25">Channels (PE-A)</text></g>
<g font-family="Liberation Serif, serif" font-size="10.6" fill="#111" stroke="#111" stroke-width="0.15"><text transform="translate(152.1 32.7) scale(1 1.05)">G1: 46.44 %</text><text transform="translate(152.1 50.7) scale(1 1.05)">G2: 15.55 %</text><text transform="translate(152.1 69) scale(1 1.05)">S: 38.01 %</text><text transform="translate(393.1 32.6) scale(1 1.05)">G1: 48.78 %</text><text transform="translate(393.1 50.8) scale(1 1.05)">G2: 19.97 %</text><text transform="translate(393.1 68.8) scale(1 1.05)">S: 31.25 %</text><text transform="translate(97.7 201.7) scale(1 1.05)">G1: 44.63 %</text><text transform="translate(97.7 219.4) scale(1 1.05)">G2: 15.62 %</text><text transform="translate(97.7 237.6) scale(1 1.05)">S: 39.75 %</text><text transform="translate(270.2 201.7) scale(1 1.05)">G1: 41.83 %</text><text transform="translate(270.2 219.4) scale(1 1.05)">G2: 16.51 %</text><text transform="translate(270.2 237.6) scale(1 1.05)">S: 41.65 %</text><text transform="translate(447.7 200.9) scale(1 1.05)">G1: 35.38 %</text><text transform="translate(447.7 218.9) scale(1 1.05)">G2: 22.51 %</text><text transform="translate(447.7 237) scale(1 1.05)">S: 42.11 %</text></g>
<g font-family="Liberation Serif, serif" font-size="14.6" font-weight="bold" fill="#000"><text x="129.4" y="176">(a)</text><text x="400.5" y="176">(b)</text><text x="80.8" y="361.6">(c)</text><text x="260.8" y="361.6">(d)</text><text x="451.3" y="361.8">(e)</text></g>
</svg>
</body></html>
